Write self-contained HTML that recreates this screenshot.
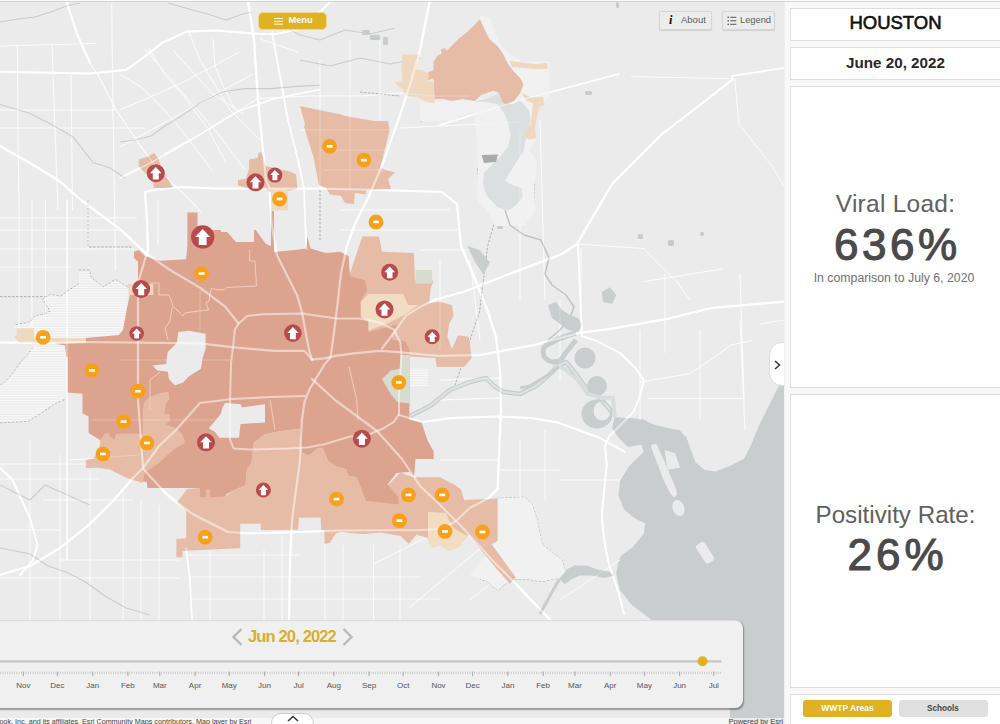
<!DOCTYPE html>
<html><head><meta charset="utf-8"><style>
*{box-sizing:border-box}
html,body{margin:0;padding:0}
body{width:1000px;height:724px;overflow:hidden;position:relative;background:#f8f8f6;font-family:"Liberation Sans",sans-serif}
#map{position:absolute;left:0;top:0;width:784px;height:724px;background:#ebebeb;overflow:hidden}
#topline{position:absolute;left:0;top:0;width:1000px;height:2px;background:#fafafa;border-bottom:1px solid #d5d5d5}
.btn{position:absolute;font-family:"Liberation Sans",sans-serif}
#menu{left:257.5px;top:11.5px;width:69px;height:18px;background:#e0b122;border-radius:5px;border:1px solid #f0d890;color:#fff;font-weight:bold;font-size:10px;line-height:16px}
.wb{top:11.2px;height:19px;background:#ececec;border:1px solid #d6d6d6;border-radius:2px;box-shadow:0 1px 1px rgba(0,0,0,0.12);color:#5c5c5c;font-size:9.5px;line-height:16px}
#tl{position:absolute;left:-20px;top:619.5px;width:763px;height:88.5px;background:#f0f0f0;border-radius:8px;box-shadow:1px 1.5px 1.5px rgba(0,0,0,0.35);border-top:1px solid #dcdcdc}
.ml{position:absolute;top:681px;width:40px;text-align:center;font-size:8px;color:#555;line-height:10px}
#attr{position:absolute;left:0;top:718px;width:784px;height:6px;background:rgba(255,255,255,0.6)}
#panel{position:absolute;left:784px;top:2px;width:216px;height:722px;background:#f8f8f6;border-left:1px solid #efefef}
.box{position:absolute;left:5px;width:211px;background:#fff;border:1px solid #dedede}
</style></head><body>
<div id="map">
<svg width="784" height="724" style="position:absolute;left:0;top:0">
<path d="M614.9,423.0 L629.2,417.7 L643.6,419.5 L654.3,424.9 L668.7,428.5 L679.5,430.3 L686.6,437.4 L690.2,448.2 L695.6,462.6 L704.6,469.7 L715.4,471.5 L729.7,466.0 L744.0,459.0 L751.3,444.6 L758.4,426.7 L765.6,412.3 L772.8,398.0 L780.0,383.6 L784.0,378.0 L784.0,724.0 L729.5,724.0 L730.0,709.0 L700.0,660.0 L648.0,617.0 L632.0,605.3 L619.6,589.5 L616.2,573.6 L618.5,560.0 L622.0,555.0 L632.8,546.9 L643.6,534.3 L645.4,523.6 L634.6,518.2 L623.8,509.2 L618.4,494.9 L620.2,480.5 L629.2,466.0 L643.6,451.8 L640.0,440.0 L625.0,432.0 Z" fill="#c9cdce" />
<path d="M17.4,46.0 L18.0,130.0 L19.0,210.0 L19.0,330.0" fill="none" stroke="#fff" stroke-width="0.9" opacity="0.85"/>
<path d="M52.0,43.0 L55.0,130.0 L58.0,210.0" fill="none" stroke="#fff" stroke-width="0.9" opacity="0.85"/>
<path d="M31.9,200.0 L31.9,330.0" fill="none" stroke="#fff" stroke-width="0.9" opacity="0.85"/>
<path d="M45.6,200.0 L45.6,320.0" fill="none" stroke="#fff" stroke-width="0.9" opacity="0.85"/>
<path d="M111.7,3.0 L113.0,110.0 L114.6,210.0 L115.4,270.0" fill="none" stroke="#fff" stroke-width="0.9" opacity="0.85"/>
<path d="M71.0,75.0 L72.5,210.0" fill="none" stroke="#fff" stroke-width="0.9" opacity="0.85"/>
<path d="M0.0,46.0 L96.0,43.5" fill="none" stroke="#fff" stroke-width="0.9" opacity="0.85"/>
<path d="M0.0,110.0 L116.0,110.0" fill="none" stroke="#fff" stroke-width="0.9" opacity="0.85"/>
<path d="M0.0,128.0 L145.0,128.0" fill="none" stroke="#fff" stroke-width="0.9" opacity="0.85"/>
<path d="M0.0,218.0 L137.0,218.0" fill="none" stroke="#fff" stroke-width="0.9" opacity="0.85"/>
<path d="M0.0,230.0 L121.0,230.0" fill="none" stroke="#fff" stroke-width="0.9" opacity="0.85"/>
<path d="M0.0,249.0 L134.0,249.0" fill="none" stroke="#fff" stroke-width="0.9" opacity="0.85"/>
<path d="M0.0,267.0 L70.0,267.0" fill="none" stroke="#fff" stroke-width="0.9" opacity="0.85"/>
<path d="M145.0,49.0 L180.0,90.0 L215.0,130.0 L245.0,170.0" fill="none" stroke="#fff" stroke-width="0.9" opacity="0.85"/>
<path d="M188.0,30.0 L200.0,60.0 L230.0,110.0 L260.0,140.0" fill="none" stroke="#fff" stroke-width="0.9" opacity="0.85"/>
<path d="M260.0,98.7 L312.0,95.8 L364.5,95.8 L399.0,93.0 L434.0,96.0 L470.0,96.0" fill="none" stroke="#fff" stroke-width="0.9" opacity="0.85"/>
<path d="M399.0,128.0 L460.0,125.0 L520.0,122.0" fill="none" stroke="#fff" stroke-width="0.9" opacity="0.85"/>
<path d="M260.0,39.0 L298.0,52.0" fill="none" stroke="#fff" stroke-width="0.9" opacity="0.85"/>
<path d="M88.0,200.0 L88.0,250.0" fill="none" stroke="#fff" stroke-width="0.9" opacity="0.85"/>
<path d="M158.0,200.0 L158.0,245.0" fill="none" stroke="#fff" stroke-width="0.9" opacity="0.85"/>
<path d="M200.0,290.0 L200.0,330.0" fill="none" stroke="#fff" stroke-width="0.9" opacity="0.85"/>
<path d="M120.0,360.0 L230.0,360.0" fill="none" stroke="#fff" stroke-width="0.9" opacity="0.85"/>
<path d="M90.0,420.0 L230.0,420.0" fill="none" stroke="#fff" stroke-width="0.9" opacity="0.85"/>
<path d="M70.0,460.0 L140.0,455.0" fill="none" stroke="#fff" stroke-width="0.9" opacity="0.85"/>
<path d="M300.0,130.0 L390.0,130.0" fill="none" stroke="#fff" stroke-width="0.9" opacity="0.85"/>
<path d="M320.0,150.0 L385.0,150.0" fill="none" stroke="#fff" stroke-width="0.9" opacity="0.85"/>
<path d="M325.0,170.0 L390.0,170.0" fill="none" stroke="#fff" stroke-width="0.9" opacity="0.85"/>
<path d="M340.0,210.0 L450.0,210.0" fill="none" stroke="#fff" stroke-width="0.9" opacity="0.85"/>
<path d="M340.0,230.0 L460.0,230.0" fill="none" stroke="#fff" stroke-width="0.9" opacity="0.85"/>
<path d="M420.0,250.0 L470.0,250.0" fill="none" stroke="#fff" stroke-width="0.9" opacity="0.85"/>
<path d="M320.0,60.0 L320.0,188.0" fill="none" stroke="#fff" stroke-width="0.9" opacity="0.85"/>
<path d="M350.0,40.0 L350.0,188.0" fill="none" stroke="#fff" stroke-width="0.9" opacity="0.85"/>
<path d="M380.0,40.0 L380.0,120.0" fill="none" stroke="#fff" stroke-width="0.9" opacity="0.85"/>
<path d="M440.0,260.0 L440.0,350.0" fill="none" stroke="#fff" stroke-width="0.9" opacity="0.85"/>
<path d="M470.0,260.0 L480.0,340.0" fill="none" stroke="#fff" stroke-width="0.9" opacity="0.85"/>
<path d="M520.0,130.0 L520.0,300.0" fill="none" stroke="#fff" stroke-width="0.9" opacity="0.85"/>
<path d="M540.0,120.0 L545.0,300.0" fill="none" stroke="#fff" stroke-width="0.9" opacity="0.85"/>
<path d="M560.0,300.0 L560.0,380.0" fill="none" stroke="#fff" stroke-width="0.9" opacity="0.85"/>
<path d="M0.0,464.0 L87.0,464.0" fill="none" stroke="#fff" stroke-width="0.9" opacity="0.85"/>
<path d="M0.0,479.0 L99.0,479.0" fill="none" stroke="#fff" stroke-width="0.9" opacity="0.85"/>
<path d="M43.0,500.0 L133.0,500.0" fill="none" stroke="#fff" stroke-width="0.9" opacity="0.85"/>
<path d="M0.0,530.0 L60.0,530.0" fill="none" stroke="#fff" stroke-width="0.9" opacity="0.85"/>
<path d="M60.0,560.0 L180.0,560.0" fill="none" stroke="#fff" stroke-width="0.9" opacity="0.85"/>
<path d="M0.0,578.0 L180.0,578.0" fill="none" stroke="#fff" stroke-width="0.9" opacity="0.85"/>
<path d="M30.0,440.0 L30.0,620.0" fill="none" stroke="#fff" stroke-width="0.9" opacity="0.85"/>
<path d="M60.0,455.0 L60.0,620.0" fill="none" stroke="#fff" stroke-width="0.9" opacity="0.85"/>
<path d="M90.0,470.0 L90.0,620.0" fill="none" stroke="#fff" stroke-width="0.9" opacity="0.85"/>
<path d="M123.0,490.0 L123.0,620.0" fill="none" stroke="#fff" stroke-width="0.9" opacity="0.85"/>
<path d="M141.0,500.0 L141.0,620.0" fill="none" stroke="#fff" stroke-width="0.9" opacity="0.85"/>
<path d="M159.0,505.0 L159.0,620.0" fill="none" stroke="#fff" stroke-width="0.9" opacity="0.85"/>
<path d="M210.0,550.0 L210.0,620.0" fill="none" stroke="#fff" stroke-width="0.9" opacity="0.85"/>
<path d="M264.0,550.0 L264.0,620.0" fill="none" stroke="#fff" stroke-width="0.9" opacity="0.85"/>
<path d="M282.0,535.0 L282.0,620.0" fill="none" stroke="#fff" stroke-width="0.9" opacity="0.85"/>
<path d="M325.0,545.0 L325.0,620.0" fill="none" stroke="#fff" stroke-width="0.9" opacity="0.85"/>
<path d="M343.0,545.0 L343.0,620.0" fill="none" stroke="#fff" stroke-width="0.9" opacity="0.85"/>
<path d="M373.6,545.0 L373.6,620.0" fill="none" stroke="#fff" stroke-width="0.9" opacity="0.85"/>
<path d="M400.0,545.0 L400.0,620.0" fill="none" stroke="#fff" stroke-width="0.9" opacity="0.85"/>
<path d="M186.0,555.0 L300.0,555.0" fill="none" stroke="#fff" stroke-width="0.9" opacity="0.85"/>
<path d="M190.0,577.0 L420.0,577.0" fill="none" stroke="#fff" stroke-width="0.9" opacity="0.85"/>
<path d="M190.0,599.0 L440.0,599.0" fill="none" stroke="#fff" stroke-width="0.9" opacity="0.85"/>
<path d="M373.6,564.0 L426.0,537.6" fill="none" stroke="#fff" stroke-width="0.9" opacity="0.85"/>
<path d="M408.8,608.0 L488.0,542.0" fill="none" stroke="#fff" stroke-width="0.9" opacity="0.85"/>
<path d="M470.0,600.0 L520.0,560.0" fill="none" stroke="#fff" stroke-width="0.9" opacity="0.85"/>
<path d="M120.0,74.2 L142.0,87.5 L164.2,109.6 L186.3,136.0 L212.8,171.4" fill="none" stroke="#fff" stroke-width="0.9" opacity="0.85"/>
<path d="M148.7,47.7 L164.2,74.2 L184.0,96.3 L208.4,129.4 L226.0,162.6" fill="none" stroke="#fff" stroke-width="0.9" opacity="0.85"/>
<path d="M173.0,50.0 L190.7,69.8 L212.8,94.0 L243.8,114.0" fill="none" stroke="#fff" stroke-width="0.9" opacity="0.85"/>
<path d="M212.8,38.8 L215.0,65.4 L221.7,83.0 L235.0,109.6" fill="none" stroke="#fff" stroke-width="0.9" opacity="0.85"/>
<path d="M239.3,52.0 L186.3,80.8 L142.0,100.7 L120.0,109.6" fill="none" stroke="#fff" stroke-width="0.9" opacity="0.85"/>
<path d="M252.6,74.2 L204.0,100.7 L164.2,122.8 L120.0,147.0" fill="none" stroke="#fff" stroke-width="0.9" opacity="0.85"/>
<path d="M261.4,96.3 L208.4,129.4 L164.2,153.8" fill="none" stroke="#fff" stroke-width="0.9" opacity="0.85"/>
<path d="M631.0,76.6 L734.7,78.7" fill="none" stroke="#fff" stroke-width="0.9" opacity="0.85"/>
<path d="M734.7,78.7 L739.0,124.0 L772.0,166.0 L784.0,186.0" fill="none" stroke="#fff" stroke-width="0.9" opacity="0.85"/>
<path d="M577.0,244.0 L643.6,248.5 L676.7,281.7 L690.0,300.0" fill="none" stroke="#fff" stroke-width="0.9" opacity="0.85"/>
<path d="M643.6,281.7 L722.0,269.0" fill="none" stroke="#fff" stroke-width="0.9" opacity="0.85"/>
<path d="M581.0,248.5 L581.0,300.0" fill="none" stroke="#fff" stroke-width="0.9" opacity="0.85"/>
<path d="M578.0,245.0 L582.0,336.0" fill="none" stroke="#fff" stroke-width="0.9" opacity="0.85"/>
<path d="M665.0,274.0 L665.0,353.0" fill="none" stroke="#fff" stroke-width="0.9" opacity="0.85"/>
<path d="M740.0,274.0 L744.0,398.5" fill="none" stroke="#fff" stroke-width="0.9" opacity="0.85"/>
<path d="M760.0,324.0 L784.0,320.0" fill="none" stroke="#fff" stroke-width="0.9" opacity="0.85"/>
<path d="M640.0,382.0 L690.0,373.7 L714.8,357.0 L731.0,345.0 L752.0,340.5" fill="none" stroke="#fff" stroke-width="0.9" opacity="0.85"/>
<path d="M648.5,398.5 L743.8,398.5" fill="none" stroke="#fff" stroke-width="0.9" opacity="0.85"/>
<path d="M640.0,330.0 L640.0,420.0" fill="none" stroke="#fff" stroke-width="0.9" opacity="0.85"/>
<path d="M700.0,330.0 L700.0,420.0" fill="none" stroke="#fff" stroke-width="0.9" opacity="0.85"/>
<path d="M740.0,320.0 L745.0,430.0" fill="none" stroke="#fff" stroke-width="0.9" opacity="0.85"/>
<path d="M440.0,380.0 L500.0,378.0" fill="none" stroke="#fff" stroke-width="0.9" opacity="0.85"/>
<path d="M440.0,400.0 L500.0,398.0" fill="none" stroke="#fff" stroke-width="0.9" opacity="0.85"/>
<path d="M440.0,460.0 L500.0,460.0" fill="none" stroke="#fff" stroke-width="0.9" opacity="0.85"/>
<path d="M500.0,470.0 L560.0,470.0" fill="none" stroke="#fff" stroke-width="0.9" opacity="0.85"/>
<path d="M520.0,440.0 L520.0,500.0" fill="none" stroke="#fff" stroke-width="0.9" opacity="0.85"/>
<path d="M545.0,430.0 L545.0,500.0" fill="none" stroke="#fff" stroke-width="0.9" opacity="0.85"/>
<path d="M560.0,480.0 L620.0,480.0" fill="none" stroke="#fff" stroke-width="0.9" opacity="0.85"/>
<path d="M560.0,600.0 L620.0,560.0" fill="none" stroke="#fff" stroke-width="0.9" opacity="0.85"/>
<path d="M0.0,146.0 L29.0,162.5 L58.0,180.0 L81.0,200.0 L97.0,212.0 L121.5,230.4 L145.8,253.2 L170.0,270.0 L200.5,288.0 L224.8,306.3 L238.6,323.5" fill="none" stroke="#fff" stroke-width="2.2" stroke-linejoin="round" stroke-linecap="round" opacity="1"/><path d="M66.0,0.0 L77.0,34.0 L90.0,63.0" fill="none" stroke="#fff" stroke-width="2.0" stroke-linejoin="round" stroke-linecap="round" opacity="1"/><path d="M90.0,63.0 L99.0,77.0 L115.0,108.0 L129.0,129.0 L144.0,151.0 L158.0,169.0 L172.0,183.0 L187.0,197.0 L201.0,212.0" fill="none" stroke="#fff" stroke-width="1.0" stroke-linejoin="round" stroke-linecap="round" opacity="1"/><path d="M319.0,89.7 L274.7,98.5 L237.0,111.8 L208.4,129.4 L175.0,149.3 L146.5,164.8 L120.0,178.0" fill="none" stroke="#fff" stroke-width="1.4" stroke-linejoin="round" stroke-linecap="round" opacity="1"/><path d="M0.0,71.8 L89.8,73.6 L125.7,70.0 L143.6,57.5 L161.6,43.1 L186.7,31.6 L215.4,30.5 L260.0,34.1 L276.0,34.0 L304.0,28.0 L316.0,16.0 L330.0,2.0" fill="none" stroke="#fff" stroke-width="2.0" stroke-linejoin="round" stroke-linecap="round" opacity="1"/><path d="M145.0,192.0 L154.0,190.0 L180.0,187.0 L215.0,188.5 L260.0,188.5 L320.0,188.6 L380.0,190.0 L442.0,192.0 L457.0,204.0 L459.0,225.0 L461.0,246.0 L475.0,279.0 L488.0,312.0 L496.0,337.0 L500.0,370.0 L501.0,410.0 L499.0,456.0 L497.6,489.0 L488.0,498.5 L470.0,507.7 L456.0,521.0 L442.0,529.0 L420.0,530.0 L340.0,530.5 L298.0,532.0 L253.0,533.5 L228.0,532.0 L192.0,513.7 L168.0,495.5 L145.0,471.0 L143.0,468.0 L138.0,400.0 L138.0,283.0 L148.0,249.0 L147.0,221.0 L145.0,192.0" fill="none" stroke="#fff" stroke-width="2.2" stroke-linejoin="round" stroke-linecap="round" opacity="1"/><path d="M0.0,342.5 L54.0,342.8 L86.0,342.0 L200.0,343.4 L232.3,347.2 L274.6,350.9 L304.5,350.9 L312.0,359.6" fill="none" stroke="#fff" stroke-width="2.2" stroke-linejoin="round" stroke-linecap="round" opacity="1"/><path d="M312.0,359.6 L324.4,358.4 L335.6,355.9 L354.2,353.4 L379.1,350.9 L399.0,352.1 L423.9,354.6 L440.0,355.9 L480.0,355.0 L534.0,345.0 L579.0,333.0 L612.0,328.6 L670.0,318.3 L711.5,308.0 L784.0,301.7" fill="none" stroke="#fff" stroke-width="2.2" stroke-linejoin="round" stroke-linecap="round" opacity="1"/><path d="M238.6,323.5 L247.3,316.1 L262.2,314.3 L302.0,313.6 L336.8,318.6 L359.2,318.6 L379.1,322.3 L394.0,329.7 L400.2,342.2 L401.5,354.6 L400.2,374.5 L399.0,396.9 L399.0,414.3 L394.0,421.8 L381.6,429.3 L369.2,434.2 L349.3,436.7 L324.4,444.2 L307.0,447.5 L287.0,448.5 L249.8,449.5 L233.6,448.5 L229.9,439.2 L229.9,404.4 L231.1,362.1 L233.6,342.2 L234.8,329.8 L238.6,323.5" fill="none" stroke="#fff" stroke-width="2.0" stroke-linejoin="round" stroke-linecap="round" opacity="1"/><path d="M248.0,0.0 L254.0,40.0 L258.0,100.0 L262.0,140.0 L266.0,180.0 L269.3,187.3 L271.7,224.6 L276.7,254.5 L289.1,279.4 L297.0,294.9 L302.0,312.3 L307.0,339.7 L309.5,352.1 L312.0,359.6" fill="none" stroke="#fff" stroke-width="2.2" stroke-linejoin="round" stroke-linecap="round" opacity="1"/><path d="M272.0,32.0 L288.0,120.0 L298.0,160.0 L304.0,188.0 L305.3,224.6 L306.6,249.5" fill="none" stroke="#fff" stroke-width="1.6" stroke-linejoin="round" stroke-linecap="round" opacity="1"/><path d="M430.0,0.0 L420.0,50.0 L410.0,85.0 L400.0,115.0 L383.0,163.0 L369.0,196.0 L355.0,224.0 L347.0,246.0 L341.0,273.0 L338.0,300.0 L335.6,320.0 L333.0,340.0 L330.6,357.0 L324.4,364.6 L316.9,377.0 L309.5,389.4 L304.5,401.9 L302.0,419.3 L300.7,441.7 L300.0,460.0 L296.0,490.0 L292.0,520.0 L290.0,560.0 L289.0,620.0" fill="none" stroke="#fff" stroke-width="2.2" stroke-linejoin="round" stroke-linecap="round" opacity="1"/><path d="M312.0,379.0 L335.0,400.0 L377.0,431.0 L402.0,459.0 L420.0,486.0 L437.0,502.0 L461.0,526.0 L494.0,562.0 L513.0,581.0 L531.0,600.0 L560.0,630.0" fill="none" stroke="#fff" stroke-width="2.2" stroke-linejoin="round" stroke-linecap="round" opacity="1"/><path d="M305.0,396.0 L270.0,397.0 L232.0,399.0 L200.0,403.0 L176.0,430.0 L159.0,446.0 L143.0,468.0 L132.0,479.0 L114.0,500.0 L90.0,524.0 L60.0,548.0 L30.0,566.0 L0.0,575.0" fill="none" stroke="#fff" stroke-width="2.2" stroke-linejoin="round" stroke-linecap="round" opacity="1"/><path d="M0.0,468.0 L12.0,479.0 L30.0,518.0 L37.5,545.0 L33.0,560.0 L20.0,575.0" fill="none" stroke="#fff" stroke-width="1.8" stroke-linejoin="round" stroke-linecap="round" opacity="1"/><path d="M186.0,548.0 L190.0,580.0 L192.0,620.0" fill="none" stroke="#fff" stroke-width="1.6" stroke-linejoin="round" stroke-linecap="round" opacity="1"/><path d="M399.0,415.0 L422.0,422.0 L452.0,418.0 L498.0,416.5 L531.0,418.0 L558.0,422.6 L600.0,438.0 L625.0,452.0" fill="none" stroke="#fff" stroke-width="2.0" stroke-linejoin="round" stroke-linecap="round" opacity="1"/><path d="M732.0,80.0 L700.0,105.0 L662.0,134.0 L612.0,184.0 L577.0,244.0 L562.0,254.0 L504.0,276.0 L463.0,292.0 L434.0,300.0 L420.0,307.0 L406.0,315.5 L394.0,333.0 L390.0,338.0 L382.0,348.5" fill="none" stroke="#fff" stroke-width="2.2" stroke-linejoin="round" stroke-linecap="round" opacity="1"/><path d="M784.0,68.0 L732.0,76.0 L732.0,80.0" fill="none" stroke="#fff" stroke-width="1.6" stroke-linejoin="round" stroke-linecap="round" opacity="1"/><path d="M578.0,245.0 L582.0,336.0 L597.0,341.0 L620.0,353.0 L636.0,368.7 L643.8,380.3 L640.0,395.8 L634.0,411.3 L624.5,421.0 L609.0,436.4 L605.0,446.0 L606.7,464.8 L603.0,502.0 L601.7,514.5 L604.0,539.4 L609.0,564.2 L614.0,579.0 L619.0,594.0 L624.0,614.0" fill="none" stroke="#fff" stroke-width="1.8" stroke-linejoin="round" stroke-linecap="round" opacity="1"/><path d="M440.0,125.0 L517.0,101.0 L596.0,80.0 L619.0,74.0" fill="none" stroke="#fff" stroke-width="1.4" stroke-linejoin="round" stroke-linecap="round" opacity="1"/><path d="M67.0,200.0 L67.0,400.0 L67.0,560.0" fill="none" stroke="#fff" stroke-width="1.2" stroke-linejoin="round" stroke-linecap="round" opacity="1"/>
<path d="M420.0,121.0 L455.0,116.5 L458.0,108.0 L474.0,106.5 L493.0,96.6" fill="none" stroke="#a9a9a9" stroke-width="0.9" stroke-dasharray="2.5,1.5"/>
<path d="M530.5,102.0 L535.0,81.0 L546.0,82.0" fill="none" stroke="#a9a9a9" stroke-width="0.9" stroke-dasharray="2.5,1.5"/>
<path d="M526.0,144.0 L519.4,153.0 L510.6,159.6 L512.8,164.0 L530.5,161.8 L530.5,170.6 L512.8,172.8 L510.6,181.7 L534.0,184.0 L534.0,203.8 L524.0,208.0 L524.0,221.4 L497.3,221.4 L497.3,212.6" fill="none" stroke="#a9a9a9" stroke-width="0.9" stroke-dasharray="2.5,1.5"/>
<path d="M477.5,168.4 L479.7,192.7 L495.0,206.0" fill="none" stroke="#a9a9a9" stroke-width="0.9" stroke-dasharray="2.5,1.5"/>
<path d="M496.0,216.8 L487.7,245.8 L483.6,279.0 L479.5,312.0 L471.0,337.0 L463.0,362.0 L455.0,385.0" fill="none" stroke="#a9a9a9" stroke-width="0.9" stroke-dasharray="2.5,1.5"/>
<path d="M88.0,200.0 L88.0,247.0 L133.0,247.0" fill="none" stroke="#a9a9a9" stroke-width="0.9" stroke-dasharray="2.5,1.5"/>
<path d="M0.0,296.6 L45.6,296.6" fill="none" stroke="#a9a9a9" stroke-width="0.9" stroke-dasharray="2.5,1.5"/>
<path d="M320.0,190.0 L320.0,240.0" fill="none" stroke="#a9a9a9" stroke-width="0.9" stroke-dasharray="2.5,1.5"/>
<path d="M360.0,92.0 L400.0,96.0" fill="none" stroke="#a9a9a9" stroke-width="0.9" stroke-dasharray="2.5,1.5"/>
<path d="M497.4,498.4 L524.7,497.1 L532.2,504.6 L537.1,519.5 L542.1,544.3 L554.5,554.3 L562.0,559.3 L565.7,571.7 L559.5,577.9 L542.1,581.6 L524.7,579.1 L514.8,579.1 L504.8,584.1 L498.6,590.3 L492.4,586.6 L487.5,581.6 L480.0,579.1" fill="none" stroke="#a9a9a9" stroke-width="0.9" stroke-dasharray="2.5,1.5"/>
<path d="M79.0,270.2 L89.7,270.2 L91.2,277.7 L103.3,286.9 L115.5,279.3 L127.7,286.9" fill="none" stroke="#a9a9a9" stroke-width="0.9" stroke-dasharray="2.5,1.5"/>
<path d="M79.0,283.8 L66.9,291.4 L60.8,296.0 L50.2,294.5 L42.6,299.0 L50.2,311.2 L44.0,314.2 L35.0,315.7 L30.4,321.8 L15.2,324.9" fill="none" stroke="#a9a9a9" stroke-width="0.9" stroke-dasharray="2.5,1.5"/>
<path d="M33.0,347.0 L27.6,355.0 L20.7,362.0 L13.8,372.0 L6.9,380.0 L0.0,385.6" fill="none" stroke="#a9a9a9" stroke-width="0.9" stroke-dasharray="2.5,1.5"/>
<path d="M0.0,422.8 L27.6,421.4 L41.4,413.0 L55.2,403.5 L65.0,399.3" fill="none" stroke="#a9a9a9" stroke-width="0.9" stroke-dasharray="2.5,1.5"/>
<defs><pattern id="hp" width="4" height="1.66" patternUnits="userSpaceOnUse"><rect x="0" y="0" width="4" height="0.75" fill="#fff" opacity="0.75"/></pattern></defs>
<path d="M420.0,102.0 L420.0,121.0 L455.0,121.0 L458.0,116.0 L474.0,112.0 L477.0,140.0 L478.0,168.0 L477.0,200.0 L488.0,212.0 L495.0,226.0 L524.0,226.0 L535.0,212.0 L534.0,185.0 L537.0,172.0 L536.0,160.0 L529.0,150.0 L536.0,140.0 L535.0,126.0 L536.0,107.0 L549.4,97.0 L549.4,61.8 L522.5,61.8 L506.0,51.4 L497.7,39.0 L490.0,18.0 L481.0,16.0 L478.0,22.0 L495.0,60.0 L510.0,80.0 L500.0,95.0 L474.0,100.0 Z" fill="#f1f1f1" />
<path d="M497.4,498.4 L524.7,497.1 L532.2,504.6 L537.1,519.5 L542.1,544.3 L554.5,554.3 L562.0,559.3 L565.7,571.7 L559.5,577.9 L542.1,581.6 L524.7,579.1 L514.8,579.1 L504.8,584.1 L498.6,590.3 L492.4,586.6 L487.5,581.6 L480.0,579.1 L470.0,575.0 L497.6,541.0 Z" fill="#f1f1f1" />
<path d="M79.0,270.2 L89.7,270.2 L91.2,277.7 L103.3,286.9 L115.5,279.3 L127.7,286.9 L127.7,335.0 L120.0,336.0 L85.6,338.0 L33.8,338.0 L33.8,328.3 L16.6,328.3 L13.7,330.0 L15.2,324.9 L30.4,321.8 L35.0,315.7 L44.0,314.2 L50.2,311.2 L42.6,299.0 L50.2,294.5 L60.8,296.0 L66.9,291.4 L79.0,283.8 Z" fill="url(#hp)" />
<path d="M33.0,345.0 L66.0,345.0 L66.3,380.0 L65.0,399.3 L55.2,403.5 L41.4,413.0 L27.6,421.4 L0.0,422.8 L0.0,385.6 L6.9,380.0 L13.8,372.0 L20.7,362.0 L27.6,355.0 Z" fill="url(#hp)" />
<path d="M409.0,368.0 L428.0,368.0 L428.0,386.0 L409.0,386.0 Z" fill="url(#hp)" />
<path d="M474.1,102.1 L492.9,96.6 L499.6,93.3 L506.2,104.3 L512.8,104.3 L519.4,99.9 L523.9,104.3 L529.4,111.0 L530.5,119.8 L528.3,133.0 L525.0,141.9 L523.9,150.7 L515.0,164.0 L508.4,175.0 L505.0,180.6 L512.8,185.0 L521.7,188.3 L522.8,197.1 L515.0,206.0 L508.4,210.4 L497.3,207.0 L486.3,195.0 L483.0,183.9 L484.1,172.8 L490.7,166.2 L499.6,157.3 L508.4,146.3 L510.6,135.2 L508.4,124.2 L504.0,113.1 L497.3,104.3 L486.3,102.1 Z" fill="#dcdfe0" />
<path d="M567.0,569.2 L574.4,565.5 L586.8,565.5 L596.8,569.2 L609.2,571.7 L614.2,575.4 L604.2,577.9 L591.8,575.4 L579.4,575.4 L572.0,579.1 L564.5,584.1 L559.5,579.1 Z" fill="#c9cdce" />
<path d="M651.0,444.9 L656.3,443.8 L664.6,461.5 L669.7,473.9 L676.0,488.4 L677.0,494.6 L673.9,497.7 L669.7,492.5 L663.5,480.1 L657.3,463.5 L652.1,450.0 Z" fill="#ebebeb" />
<path d="M664.6,450.0 L675.0,453.2 L680.1,467.7 L667.7,469.7 Z" fill="#ebebeb" />
<ellipse cx="678.5" cy="508" rx="5.7" ry="8.3" fill="#ebebeb" transform="rotate(-20 678.5 508)"/>
<rect x="-5" y="-11" width="10" height="22" rx="3" fill="#ebebeb" transform="translate(705,552.8) rotate(-33)"/>
<path d="M614.8,417.0 L625.0,418.0 L640.0,421.0 L655.0,425.0 L668.0,428.0 L680.0,431.0 L684.0,440.0 L672.0,446.0 L655.0,443.0 L640.0,445.0 L628.0,447.0 L618.0,437.0 L612.0,428.0 Z" fill="#c9cdce" />
<path d="M481.5,155.0 L498.0,154.6 L496.0,162.0 L484.0,163.0 Z" fill="#a9abab" />
<path d="M410.0,416.0 L430.0,406.0 L450.0,390.0 L470.0,382.0 L486.0,378.0 L494.0,386.0 L504.0,392.0 L520.0,394.0 L536.0,386.0 L548.0,376.0 L558.0,366.0 L566.0,362.0 L576.0,374.0 L586.0,388.0 L600.0,398.0 L612.0,412.0" fill="none" stroke="#c3c8ca" stroke-width="4.5" stroke-linejoin="round"/>
<path d="M410.0,416.0 L430.0,406.0 L450.0,390.0 L470.0,382.0 L486.0,378.0 L494.0,386.0 L504.0,392.0 L520.0,394.0 L536.0,386.0 L548.0,376.0 L558.0,366.0 L566.0,362.0 L576.0,374.0 L586.0,388.0 L600.0,398.0 L612.0,412.0" fill="none" stroke="#dde1e2" stroke-width="2.5" stroke-linejoin="round"/>
<path d="M505.0,210.0 L510.0,225.0 L524.0,235.0 L541.0,240.0 L549.0,258.0 L545.0,274.0 L552.0,285.0 L566.0,295.0 L574.0,307.0 L570.0,318.0 L560.0,330.0 L548.0,340.0" fill="none" stroke="#bfc4c6" stroke-width="1.5" stroke-linejoin="round"/>
<path d="M0.0,22.0 L18.0,19.0 L35.0,17.0 L52.0,11.6 L67.0,5.8 L80.0,3.0" fill="none" stroke="#c8cccd" stroke-width="1.1" stroke-linejoin="round"/>
<path d="M168.0,3.0 L189.0,9.0 L209.0,14.5 L226.0,20.0 L241.0,14.5 L252.0,12.0" fill="none" stroke="#c8cccd" stroke-width="1.1" stroke-linejoin="round"/>
<path d="M0.0,104.5 L29.0,113.0 L52.0,124.8 L72.5,136.4 L93.0,162.5 L110.0,168.0 L125.0,178.0" fill="none" stroke="#c8cccd" stroke-width="1.1" stroke-linejoin="round"/>
<path d="M0.0,485.0 L18.0,494.0 L30.0,500.0 L45.0,485.0 L72.0,497.0 L90.0,505.0" fill="none" stroke="#c8cccd" stroke-width="1.1" stroke-linejoin="round"/>
<path d="M0.0,548.0 L30.0,554.0 L48.0,566.0 L66.0,572.0 L84.0,581.0 L105.0,596.0 L126.0,608.0 L150.0,615.0" fill="none" stroke="#c8cccd" stroke-width="1.1" stroke-linejoin="round"/>
<path d="M260.0,30.0 L280.0,25.0 L300.0,35.0 L320.0,40.0 L345.0,30.0 L370.0,34.0 L395.0,28.0" fill="none" stroke="#c8cccd" stroke-width="1.1" stroke-linejoin="round"/>
<path d="M300.0,60.0 L330.0,66.0 L360.0,58.0 L390.0,64.0 L420.0,58.0" fill="none" stroke="#c8cccd" stroke-width="1.1" stroke-linejoin="round"/>
<path d="M120.0,142.0 L135.0,140.0 L151.0,136.0 L165.0,126.0 L177.5,118.4 L190.0,110.0 L199.6,103.0 L212.0,97.0 L221.7,92.0 L243.8,88.6 L270.3,88.6 L296.8,86.4 L320.0,85.2" fill="none" stroke="#c8cccd" stroke-width="1.1" stroke-linejoin="round"/>
<path d="M467.0,245.8 L479.5,250.0 L489.8,262.3 L483.6,274.8 L475.3,262.3 Z" fill="#c9cdce" />
<path d="M601.7,292.0 L610.0,287.2 L616.2,295.0 L612.0,303.8 L603.0,302.0 Z" fill="#c9cdce" />
<rect x="585" y="91" width="7" height="4" rx="1.5" fill="#c6cbcc"/>
<rect x="638" y="234" width="5" height="5" rx="1.5" fill="#c6cbcc"/>
<rect x="668" y="240" width="6" height="6" rx="1.5" fill="#c6cbcc"/>
<rect x="616" y="2" width="3" height="6" rx="1.5" fill="#c6cbcc"/>
<rect x="362" y="30" width="8" height="5" rx="1.5" fill="#c6cbcc"/>
<rect x="370" y="35" width="10" height="5" rx="1.5" fill="#c6cbcc"/>
<rect x="383" y="37" width="5" height="8" rx="1.5" fill="#c6cbcc"/>
<rect x="700" y="232" width="4" height="4" rx="1.5" fill="#c6cbcc"/>
<rect x="497" y="226" width="6" height="3" rx="1.5" fill="#c6cbcc"/>
<circle cx="585" cy="358" r="10.5" fill="#c9cdce"/>
<circle cx="597" cy="386" r="10" fill="#c9cdce"/>
<path fill-rule="evenodd" d="M581.5,414 A15.5,14.5 0 1 0 612.5,414 A15.5,14.5 0 1 0 581.5,414 Z M593.5,411 A8.5,9.5 0 1 0 610.5,411 A8.5,9.5 0 1 0 593.5,411 Z" fill="#c9cdce"/>
<path d="M548.0,305.0 L556.0,302.0 L562.0,310.0 L570.0,315.0 L578.0,318.0 L582.0,325.0 L578.0,332.0 L568.0,330.0 L560.0,324.0 L552.0,318.0 Z" fill="#c9cdce" />
<path d="M552.9,364.8 L564.5,368.7 L578,380.3 L587.7,393.8 L601.3,397.7 L612.9,397.7 L614.8,417" fill="none" stroke="#d9dcdd" stroke-width="4"/>
<path d="M520,388 L529.7,386 L539.3,380.3 L549,374.5 L558.7,366.8" fill="none" stroke="#c9cdce" stroke-width="3"/>
<path d="M545,346 Q558,338 576,333 M576,340 Q566,352 560,361 Q548,364 544,356 Q542,349 545,346" fill="none" stroke="#c9cdce" stroke-width="5"/>
<path d="M559.5,579 L552,592 L545,605 L540,614" fill="none" stroke="#c9cdce" stroke-width="3"/>
<path d="M177.0,502.6 L187.0,488.9 L200.0,488.1 L209.8,488.9 L225.0,496.5 L236.4,488.9 L245.5,485.1 L247.0,469.0 L251.6,463.0 L253.5,443.2 L263.4,435.1 L268.8,433.3 L285.0,430.6 L299.4,428.8 L302.0,452.2 L308.4,455.8 L317.4,448.6 L322.8,447.7 L324.6,452.2 L328.2,461.2 L337.2,466.6 L346.2,469.3 L348.0,475.6 L357.0,477.4 L366.0,490.0 L388.0,485.0 L400.3,472.7 L414.0,477.3 L439.8,477.3 L455.0,485.0 L461.0,489.4 L464.0,500.0 L497.6,498.5 L497.6,541.0 L491.5,544.0 L515.8,577.6 L509.7,583.6 L497.6,570.0 L468.7,535.0 L458.0,547.0 L449.0,550.0 L439.8,545.6 L430.7,547.0 L427.7,538.0 L416.6,534.6 L408.8,543.7 L400.4,536.0 L380.8,532.5 L364.0,533.9 L352.8,533.2 L341.6,531.8 L336.0,533.2 L329.7,543.0 L324.8,543.7 L324.1,530.4 L321.3,529.7 L320.6,517.5 L298.9,517.8 L298.2,529.7 L260.7,530.0 L260.7,523.8 L240.2,523.8 L240.2,548.2 L206.0,549.7 L188.5,550.4 L182.4,551.2 L182.4,557.3 L176.4,557.3 L176.4,539.0 L186.2,538.3 L186.2,510.2 Z" fill="#e6bca6" />
<path d="M348.6,277.5 L362.3,236.5 L379.0,236.5 L382.0,251.7 L414.0,253.0 L414.9,280.5 L433.7,280.5 L430.7,288.0 L429.2,303.3 L439.8,301.8 L452.0,305.0 L453.5,315.5 L449.0,324.6 L447.4,336.8 L452.0,349.0 L458.0,335.3 L468.7,336.8 L471.7,358.0 L464.0,367.0 L436.8,367.0 L435.3,358.0 L409.4,356.5 L390.0,345.0 L365.0,338.0 L350.0,300.0 Z" fill="#e6bca6" />
<path d="M54.0,343.5 L85.6,343.0 L85.6,338.0 L118.8,335.0 L123.0,330.0 L127.0,308.0 L129.8,295.0 L128.5,284.0 L133.0,284.0 L138.0,280.0 L138.0,262.0 L134.0,257.8 L134.0,251.7 L138.8,250.0 L145.0,256.0 L160.0,260.8 L186.0,259.3 L187.4,245.6 L187.4,212.5 L197.5,212.5 L197.5,228.0 L214.0,230.0 L221.0,230.0 L221.0,232.0 L227.0,232.0 L230.0,235.0 L234.0,240.0 L236.0,242.0 L254.0,242.0 L254.0,230.0 L256.0,230.0 L260.0,236.0 L266.0,244.0 L271.0,246.0 L271.0,211.0 L274.0,211.0 L274.0,252.0 L295.3,250.0 L306.0,248.6 L307.5,236.5 L310.5,248.6 L325.7,253.0 L340.0,251.7 L348.6,256.0 L350.0,276.0 L365.3,280.5 L367.0,291.0 L360.8,300.3 L360.8,315.5 L371.4,321.6 L368.4,332.2 L385.0,327.7 L397.3,324.6 L391.0,335.3 L392.7,339.8 L404.9,341.3 L409.4,349.0 L409.4,419.5 L421.6,422.6 L424.6,431.7 L427.7,440.8 L433.7,451.4 L433.7,459.0 L415.5,459.0 L414.0,477.3 L409.2,472.0 L396.6,472.9 L387.6,484.6 L398.4,497.2 L398.4,504.4 L366.0,500.8 L357.0,477.4 L348.0,475.6 L346.2,469.3 L337.2,466.6 L328.2,461.2 L324.6,452.2 L322.8,447.7 L317.4,448.6 L308.4,455.8 L302.0,452.2 L299.4,428.8 L285.0,430.6 L268.8,433.3 L263.4,435.1 L253.5,443.2 L251.6,463.0 L247.0,469.0 L245.5,485.1 L236.4,488.9 L226.5,494.2 L225.0,496.5 L209.8,497.2 L209.8,488.9 L206.0,489.6 L206.0,497.2 L200.0,497.2 L200.0,488.1 L187.0,488.1 L147.5,488.1 L146.7,482.0 L133.0,479.8 L100.0,440.0 L88.6,433.0 L88.6,416.5 L82.5,413.4 L82.5,393.7 L67.7,392.5 L67.7,357.3 L66.3,356.6 L65.0,345.6 Z" fill="#dca48f" />
<path d="M152.5,365.6 L166.0,364.0 L167.7,352.0 L176.8,343.0 L178.3,332.0 L189.0,330.7 L205.6,333.7 L205.6,349.0 L202.6,358.0 L201.0,368.7 L189.0,376.3 L182.9,382.4 L175.0,385.4 L169.0,379.3 L167.7,371.7 L157.0,370.2 Z" fill="#ebebeb" />
<path d="M222.4,407.4 L225.4,402.8 L240.6,404.3 L242.0,407.4 L265.0,404.3 L265.0,422.6 L240.6,424.0 L239.0,437.8 L219.3,437.8 L214.8,431.7 L208.7,428.6 L216.3,419.5 L220.9,413.4 Z" fill="#ebebeb" />
<path d="M86.0,468.0 L85.7,460.3 L93.1,458.6 L98.9,451.2 L100.6,439.6 L104.7,433.8 L108.9,433.0 L109.7,436.3 L114.7,439.6 L116.3,433.8 L136.2,433.8 L142.8,433.8 L142.8,409.8 L144.5,401.5 L149.5,397.3 L159.4,393.2 L168.5,391.5 L169.3,399.8 L166.0,403.1 L164.4,413.9 L169.3,413.9 L170.2,419.7 L166.0,424.7 L176.0,428.0 L182.6,434.6 L185.1,442.9 L176.0,447.9 L166.0,456.2 L159.4,462.8 L149.5,469.4 L144.5,472.7 L142.8,482.7 L136.2,481.0 L126.3,477.7 L116.3,472.7 L109.7,469.4 L98.1,467.7 Z" fill="#e6bca6" />
<path d="M428.0,512.0 L446.0,513.0 L452.0,526.0 L458.0,531.0 L468.0,536.0 L458.0,548.0 L449.0,551.0 L440.0,546.0 L431.0,548.0 L428.0,538.0 Z" fill="#f2dcc2" />
<path d="M360.8,301.8 L368.4,294.0 L403.3,294.0 L408.0,305.0 L418.5,305.0 L403.3,315.5 L388.0,323.0 L368.4,330.7 L368.4,321.6 L360.8,317.0 Z" fill="#f2dcc2" />
<path d="M415.5,270.0 L432.2,270.0 L432.2,283.6 L415.5,283.6 Z" fill="#d7dccf" />
<path d="M382.0,379.3 L391.0,370.2 L400.3,368.7 L400.3,355.0 L409.4,355.0 L409.4,403.6 L397.3,402.0 L391.0,394.5 Z" fill="#d7dccf" />
<path d="M300.0,106.0 L341.0,114.5 L345.0,116.0 L374.0,121.0 L388.0,121.0 L389.5,130.0 L385.0,149.0 L380.0,168.0 L395.0,172.5 L388.0,179.0 L391.0,189.0 L366.0,190.5 L366.0,194.6 L355.0,193.0 L354.0,204.0 L345.0,203.0 L341.0,196.0 L330.0,194.6 L326.0,188.0 L319.0,185.0 L313.5,157.0 L305.0,130.0 L304.0,127.0 L305.0,124.0 Z" fill="#e6bca6" />
<path d="M138.7,159.4 L148.3,156.6 L153.9,153.0 L158.0,158.0 L162.0,169.0 L173.0,188.0 L154.0,188.0 L152.5,180.0 L144.0,172.0 L138.7,166.0 Z" fill="#e6bca6" />
<path d="M249.0,159.4 L257.5,158.0 L258.8,152.5 L261.6,152.5 L265.7,166.0 L290.6,171.8 L296.0,174.6 L297.5,188.4 L287.8,191.0 L271.0,192.0 L270.0,192.5 L265.7,188.4 L253.0,189.8 L238.0,185.6 L238.0,180.0 L246.0,178.7 L249.0,169.0 Z" fill="#e6bca6" />
<path d="M271.0,188.5 L287.8,188.5 L287.8,210.5 L271.0,210.5 Z" fill="#efd8bf" />
<path d="M128.5,284.0 L153.3,284.0 L153.3,295.0 L128.5,295.0 Z" fill="#efd8bf" />
<path d="M16.6,328.3 L33.8,328.3 L33.8,338.0 L85.6,338.0 L85.6,342.8 L19.3,342.8 L14.5,336.6 L16.6,335.0 Z" fill="#efd8bf" />
<path d="M480.0,19.3 L485.2,30.7 L489.4,39.0 L497.7,46.2 L502.8,53.5 L508.0,63.8 L514.2,72.0 L520.4,78.3 L523.5,84.5 L520.4,92.8 L514.2,101.0 L506.0,105.2 L501.8,101.0 L498.7,92.8 L493.5,90.7 L487.3,92.8 L481.0,95.0 L474.9,101.0 L462.5,99.0 L452.0,101.0 L443.8,99.0 L434.5,99.0 L433.5,78.3 L427.3,80.4 L428.3,72.0 L433.5,70.0 L433.5,61.8 L437.6,55.5 L441.8,53.5 L440.7,49.3 L444.9,48.3 L447.0,50.4 L458.3,39.0 L468.7,30.7 L477.0,22.4 Z" fill="#e6bca6" />
<path d="M402.4,54.5 L419.0,54.5 L415.9,70.0 L422.0,70.0 L429.3,74.2 L427.3,81.4 L433.5,81.4 L434.5,99.0 L434.5,103.2 L426.2,102.1 L417.0,97.0 L406.6,96.0 L402.4,88.7 L397.2,85.6 L395.2,82.5 L402.4,80.4 L401.4,67.0 Z" fill="#efd8bf" />
<path d="M521.5,92.8 L526.6,95.0 L529.8,97.0 L543.2,97.0 L544.2,105.2 L539.0,107.3 L535.0,126.0 L536.0,138.4 L528.7,139.4 L523.5,134.2 L530.8,124.0 L532.9,103.2 L526.6,101.0 L522.5,95.0 Z" fill="#efd8bf" />
<path d="M510.0,61.0 L535.0,64.0 L547.0,63.0 L548.0,69.0 L535.0,69.0 L512.0,67.0 Z" fill="#efd8bf" />
<path d="M17.4,46.0 L18.0,130.0 L19.0,210.0 L19.0,330.0" fill="none" stroke="#fff" stroke-width="0.9" opacity="0.3"/>
<path d="M52.0,43.0 L55.0,130.0 L58.0,210.0" fill="none" stroke="#fff" stroke-width="0.9" opacity="0.3"/>
<path d="M31.9,200.0 L31.9,330.0" fill="none" stroke="#fff" stroke-width="0.9" opacity="0.3"/>
<path d="M45.6,200.0 L45.6,320.0" fill="none" stroke="#fff" stroke-width="0.9" opacity="0.3"/>
<path d="M111.7,3.0 L113.0,110.0 L114.6,210.0 L115.4,270.0" fill="none" stroke="#fff" stroke-width="0.9" opacity="0.3"/>
<path d="M71.0,75.0 L72.5,210.0" fill="none" stroke="#fff" stroke-width="0.9" opacity="0.3"/>
<path d="M0.0,46.0 L96.0,43.5" fill="none" stroke="#fff" stroke-width="0.9" opacity="0.3"/>
<path d="M0.0,110.0 L116.0,110.0" fill="none" stroke="#fff" stroke-width="0.9" opacity="0.3"/>
<path d="M0.0,128.0 L145.0,128.0" fill="none" stroke="#fff" stroke-width="0.9" opacity="0.3"/>
<path d="M0.0,218.0 L137.0,218.0" fill="none" stroke="#fff" stroke-width="0.9" opacity="0.3"/>
<path d="M0.0,230.0 L121.0,230.0" fill="none" stroke="#fff" stroke-width="0.9" opacity="0.3"/>
<path d="M0.0,249.0 L134.0,249.0" fill="none" stroke="#fff" stroke-width="0.9" opacity="0.3"/>
<path d="M0.0,267.0 L70.0,267.0" fill="none" stroke="#fff" stroke-width="0.9" opacity="0.3"/>
<path d="M145.0,49.0 L180.0,90.0 L215.0,130.0 L245.0,170.0" fill="none" stroke="#fff" stroke-width="0.9" opacity="0.3"/>
<path d="M188.0,30.0 L200.0,60.0 L230.0,110.0 L260.0,140.0" fill="none" stroke="#fff" stroke-width="0.9" opacity="0.3"/>
<path d="M260.0,98.7 L312.0,95.8 L364.5,95.8 L399.0,93.0 L434.0,96.0 L470.0,96.0" fill="none" stroke="#fff" stroke-width="0.9" opacity="0.3"/>
<path d="M399.0,128.0 L460.0,125.0 L520.0,122.0" fill="none" stroke="#fff" stroke-width="0.9" opacity="0.3"/>
<path d="M260.0,39.0 L298.0,52.0" fill="none" stroke="#fff" stroke-width="0.9" opacity="0.3"/>
<path d="M88.0,200.0 L88.0,250.0" fill="none" stroke="#fff" stroke-width="0.9" opacity="0.3"/>
<path d="M158.0,200.0 L158.0,245.0" fill="none" stroke="#fff" stroke-width="0.9" opacity="0.3"/>
<path d="M200.0,290.0 L200.0,330.0" fill="none" stroke="#fff" stroke-width="0.9" opacity="0.3"/>
<path d="M120.0,360.0 L230.0,360.0" fill="none" stroke="#fff" stroke-width="0.9" opacity="0.3"/>
<path d="M90.0,420.0 L230.0,420.0" fill="none" stroke="#fff" stroke-width="0.9" opacity="0.3"/>
<path d="M70.0,460.0 L140.0,455.0" fill="none" stroke="#fff" stroke-width="0.9" opacity="0.3"/>
<path d="M300.0,130.0 L390.0,130.0" fill="none" stroke="#fff" stroke-width="0.9" opacity="0.3"/>
<path d="M320.0,150.0 L385.0,150.0" fill="none" stroke="#fff" stroke-width="0.9" opacity="0.3"/>
<path d="M325.0,170.0 L390.0,170.0" fill="none" stroke="#fff" stroke-width="0.9" opacity="0.3"/>
<path d="M340.0,210.0 L450.0,210.0" fill="none" stroke="#fff" stroke-width="0.9" opacity="0.3"/>
<path d="M340.0,230.0 L460.0,230.0" fill="none" stroke="#fff" stroke-width="0.9" opacity="0.3"/>
<path d="M420.0,250.0 L470.0,250.0" fill="none" stroke="#fff" stroke-width="0.9" opacity="0.3"/>
<path d="M320.0,60.0 L320.0,188.0" fill="none" stroke="#fff" stroke-width="0.9" opacity="0.3"/>
<path d="M350.0,40.0 L350.0,188.0" fill="none" stroke="#fff" stroke-width="0.9" opacity="0.3"/>
<path d="M380.0,40.0 L380.0,120.0" fill="none" stroke="#fff" stroke-width="0.9" opacity="0.3"/>
<path d="M440.0,260.0 L440.0,350.0" fill="none" stroke="#fff" stroke-width="0.9" opacity="0.3"/>
<path d="M470.0,260.0 L480.0,340.0" fill="none" stroke="#fff" stroke-width="0.9" opacity="0.3"/>
<path d="M520.0,130.0 L520.0,300.0" fill="none" stroke="#fff" stroke-width="0.9" opacity="0.3"/>
<path d="M540.0,120.0 L545.0,300.0" fill="none" stroke="#fff" stroke-width="0.9" opacity="0.3"/>
<path d="M560.0,300.0 L560.0,380.0" fill="none" stroke="#fff" stroke-width="0.9" opacity="0.3"/>
<path d="M0.0,464.0 L87.0,464.0" fill="none" stroke="#fff" stroke-width="0.9" opacity="0.3"/>
<path d="M0.0,479.0 L99.0,479.0" fill="none" stroke="#fff" stroke-width="0.9" opacity="0.3"/>
<path d="M43.0,500.0 L133.0,500.0" fill="none" stroke="#fff" stroke-width="0.9" opacity="0.3"/>
<path d="M0.0,530.0 L60.0,530.0" fill="none" stroke="#fff" stroke-width="0.9" opacity="0.3"/>
<path d="M60.0,560.0 L180.0,560.0" fill="none" stroke="#fff" stroke-width="0.9" opacity="0.3"/>
<path d="M0.0,578.0 L180.0,578.0" fill="none" stroke="#fff" stroke-width="0.9" opacity="0.3"/>
<path d="M30.0,440.0 L30.0,620.0" fill="none" stroke="#fff" stroke-width="0.9" opacity="0.3"/>
<path d="M60.0,455.0 L60.0,620.0" fill="none" stroke="#fff" stroke-width="0.9" opacity="0.3"/>
<path d="M90.0,470.0 L90.0,620.0" fill="none" stroke="#fff" stroke-width="0.9" opacity="0.3"/>
<path d="M123.0,490.0 L123.0,620.0" fill="none" stroke="#fff" stroke-width="0.9" opacity="0.3"/>
<path d="M141.0,500.0 L141.0,620.0" fill="none" stroke="#fff" stroke-width="0.9" opacity="0.3"/>
<path d="M159.0,505.0 L159.0,620.0" fill="none" stroke="#fff" stroke-width="0.9" opacity="0.3"/>
<path d="M210.0,550.0 L210.0,620.0" fill="none" stroke="#fff" stroke-width="0.9" opacity="0.3"/>
<path d="M264.0,550.0 L264.0,620.0" fill="none" stroke="#fff" stroke-width="0.9" opacity="0.3"/>
<path d="M282.0,535.0 L282.0,620.0" fill="none" stroke="#fff" stroke-width="0.9" opacity="0.3"/>
<path d="M325.0,545.0 L325.0,620.0" fill="none" stroke="#fff" stroke-width="0.9" opacity="0.3"/>
<path d="M343.0,545.0 L343.0,620.0" fill="none" stroke="#fff" stroke-width="0.9" opacity="0.3"/>
<path d="M373.6,545.0 L373.6,620.0" fill="none" stroke="#fff" stroke-width="0.9" opacity="0.3"/>
<path d="M400.0,545.0 L400.0,620.0" fill="none" stroke="#fff" stroke-width="0.9" opacity="0.3"/>
<path d="M186.0,555.0 L300.0,555.0" fill="none" stroke="#fff" stroke-width="0.9" opacity="0.3"/>
<path d="M190.0,577.0 L420.0,577.0" fill="none" stroke="#fff" stroke-width="0.9" opacity="0.3"/>
<path d="M190.0,599.0 L440.0,599.0" fill="none" stroke="#fff" stroke-width="0.9" opacity="0.3"/>
<path d="M373.6,564.0 L426.0,537.6" fill="none" stroke="#fff" stroke-width="0.9" opacity="0.3"/>
<path d="M408.8,608.0 L488.0,542.0" fill="none" stroke="#fff" stroke-width="0.9" opacity="0.3"/>
<path d="M470.0,600.0 L520.0,560.0" fill="none" stroke="#fff" stroke-width="0.9" opacity="0.3"/>
<path d="M120.0,74.2 L142.0,87.5 L164.2,109.6 L186.3,136.0 L212.8,171.4" fill="none" stroke="#fff" stroke-width="0.9" opacity="0.3"/>
<path d="M148.7,47.7 L164.2,74.2 L184.0,96.3 L208.4,129.4 L226.0,162.6" fill="none" stroke="#fff" stroke-width="0.9" opacity="0.3"/>
<path d="M173.0,50.0 L190.7,69.8 L212.8,94.0 L243.8,114.0" fill="none" stroke="#fff" stroke-width="0.9" opacity="0.3"/>
<path d="M212.8,38.8 L215.0,65.4 L221.7,83.0 L235.0,109.6" fill="none" stroke="#fff" stroke-width="0.9" opacity="0.3"/>
<path d="M239.3,52.0 L186.3,80.8 L142.0,100.7 L120.0,109.6" fill="none" stroke="#fff" stroke-width="0.9" opacity="0.3"/>
<path d="M252.6,74.2 L204.0,100.7 L164.2,122.8 L120.0,147.0" fill="none" stroke="#fff" stroke-width="0.9" opacity="0.3"/>
<path d="M261.4,96.3 L208.4,129.4 L164.2,153.8" fill="none" stroke="#fff" stroke-width="0.9" opacity="0.3"/>
<path d="M631.0,76.6 L734.7,78.7" fill="none" stroke="#fff" stroke-width="0.9" opacity="0.3"/>
<path d="M734.7,78.7 L739.0,124.0 L772.0,166.0 L784.0,186.0" fill="none" stroke="#fff" stroke-width="0.9" opacity="0.3"/>
<path d="M577.0,244.0 L643.6,248.5 L676.7,281.7 L690.0,300.0" fill="none" stroke="#fff" stroke-width="0.9" opacity="0.3"/>
<path d="M643.6,281.7 L722.0,269.0" fill="none" stroke="#fff" stroke-width="0.9" opacity="0.3"/>
<path d="M581.0,248.5 L581.0,300.0" fill="none" stroke="#fff" stroke-width="0.9" opacity="0.3"/>
<path d="M578.0,245.0 L582.0,336.0" fill="none" stroke="#fff" stroke-width="0.9" opacity="0.3"/>
<path d="M665.0,274.0 L665.0,353.0" fill="none" stroke="#fff" stroke-width="0.9" opacity="0.3"/>
<path d="M740.0,274.0 L744.0,398.5" fill="none" stroke="#fff" stroke-width="0.9" opacity="0.3"/>
<path d="M760.0,324.0 L784.0,320.0" fill="none" stroke="#fff" stroke-width="0.9" opacity="0.3"/>
<path d="M640.0,382.0 L690.0,373.7 L714.8,357.0 L731.0,345.0 L752.0,340.5" fill="none" stroke="#fff" stroke-width="0.9" opacity="0.3"/>
<path d="M648.5,398.5 L743.8,398.5" fill="none" stroke="#fff" stroke-width="0.9" opacity="0.3"/>
<path d="M640.0,330.0 L640.0,420.0" fill="none" stroke="#fff" stroke-width="0.9" opacity="0.3"/>
<path d="M700.0,330.0 L700.0,420.0" fill="none" stroke="#fff" stroke-width="0.9" opacity="0.3"/>
<path d="M740.0,320.0 L745.0,430.0" fill="none" stroke="#fff" stroke-width="0.9" opacity="0.3"/>
<path d="M440.0,380.0 L500.0,378.0" fill="none" stroke="#fff" stroke-width="0.9" opacity="0.3"/>
<path d="M440.0,400.0 L500.0,398.0" fill="none" stroke="#fff" stroke-width="0.9" opacity="0.3"/>
<path d="M440.0,460.0 L500.0,460.0" fill="none" stroke="#fff" stroke-width="0.9" opacity="0.3"/>
<path d="M500.0,470.0 L560.0,470.0" fill="none" stroke="#fff" stroke-width="0.9" opacity="0.3"/>
<path d="M520.0,440.0 L520.0,500.0" fill="none" stroke="#fff" stroke-width="0.9" opacity="0.3"/>
<path d="M545.0,430.0 L545.0,500.0" fill="none" stroke="#fff" stroke-width="0.9" opacity="0.3"/>
<path d="M560.0,480.0 L620.0,480.0" fill="none" stroke="#fff" stroke-width="0.9" opacity="0.3"/>
<path d="M560.0,600.0 L620.0,560.0" fill="none" stroke="#fff" stroke-width="0.9" opacity="0.3"/>
<path d="M249.7,250.0 L249.7,261.0 L255.0,261.0 L256.5,286.0 L226.5,287.5 L225.0,289.7 L216.0,289.7 L211.5,288.0 L210.0,293.5 L209.0,301.0 L206.0,302.5 L208.5,310.0 L195.0,311.5 L184.5,313.0 L183.0,316.0 L172.5,305.5 L171.0,299.5 L168.7,295.0 L159.0,295.0 L159.0,283.0 L150.0,283.0" fill="none" stroke="#f2d2c4" stroke-width="0.9"/>
<path d="M172.5,307.0 L169.5,322.0 L165.0,328.0 L168.0,340.0" fill="none" stroke="#f2d2c4" stroke-width="0.9"/>
<path d="M349.0,367.0 L356.7,399.4 L358.0,420.0" fill="none" stroke="#f2d2c4" stroke-width="0.9"/>
<path d="M160.0,372.0 L150.0,380.0 L150.0,410.0" fill="none" stroke="#f2d2c4" stroke-width="0.9"/>
<path d="M270.0,400.0 L275.0,430.0" fill="none" stroke="#f2d2c4" stroke-width="0.9"/>
<path d="M0.0,146.0 L29.0,162.5 L58.0,180.0 L81.0,200.0 L97.0,212.0 L121.5,230.4 L145.8,253.2 L170.0,270.0 L200.5,288.0 L224.8,306.3 L238.6,323.5" fill="none" stroke="#fff" stroke-width="2.2" stroke-linejoin="round" stroke-linecap="round" opacity="0.5"/><path d="M66.0,0.0 L77.0,34.0 L90.0,63.0" fill="none" stroke="#fff" stroke-width="2.0" stroke-linejoin="round" stroke-linecap="round" opacity="0.5"/><path d="M90.0,63.0 L99.0,77.0 L115.0,108.0 L129.0,129.0 L144.0,151.0 L158.0,169.0 L172.0,183.0 L187.0,197.0 L201.0,212.0" fill="none" stroke="#fff" stroke-width="1.0" stroke-linejoin="round" stroke-linecap="round" opacity="0.5"/><path d="M319.0,89.7 L274.7,98.5 L237.0,111.8 L208.4,129.4 L175.0,149.3 L146.5,164.8 L120.0,178.0" fill="none" stroke="#fff" stroke-width="1.4" stroke-linejoin="round" stroke-linecap="round" opacity="0.5"/><path d="M0.0,71.8 L89.8,73.6 L125.7,70.0 L143.6,57.5 L161.6,43.1 L186.7,31.6 L215.4,30.5 L260.0,34.1 L276.0,34.0 L304.0,28.0 L316.0,16.0 L330.0,2.0" fill="none" stroke="#fff" stroke-width="2.0" stroke-linejoin="round" stroke-linecap="round" opacity="0.5"/><path d="M145.0,192.0 L154.0,190.0 L180.0,187.0 L215.0,188.5 L260.0,188.5 L320.0,188.6 L380.0,190.0 L442.0,192.0 L457.0,204.0 L459.0,225.0 L461.0,246.0 L475.0,279.0 L488.0,312.0 L496.0,337.0 L500.0,370.0 L501.0,410.0 L499.0,456.0 L497.6,489.0 L488.0,498.5 L470.0,507.7 L456.0,521.0 L442.0,529.0 L420.0,530.0 L340.0,530.5 L298.0,532.0 L253.0,533.5 L228.0,532.0 L192.0,513.7 L168.0,495.5 L145.0,471.0 L143.0,468.0 L138.0,400.0 L138.0,283.0 L148.0,249.0 L147.0,221.0 L145.0,192.0" fill="none" stroke="#fff" stroke-width="2.2" stroke-linejoin="round" stroke-linecap="round" opacity="0.5"/><path d="M0.0,342.5 L54.0,342.8 L86.0,342.0 L200.0,343.4 L232.3,347.2 L274.6,350.9 L304.5,350.9 L312.0,359.6" fill="none" stroke="#fff" stroke-width="2.2" stroke-linejoin="round" stroke-linecap="round" opacity="0.5"/><path d="M312.0,359.6 L324.4,358.4 L335.6,355.9 L354.2,353.4 L379.1,350.9 L399.0,352.1 L423.9,354.6 L440.0,355.9 L480.0,355.0 L534.0,345.0 L579.0,333.0 L612.0,328.6 L670.0,318.3 L711.5,308.0 L784.0,301.7" fill="none" stroke="#fff" stroke-width="2.2" stroke-linejoin="round" stroke-linecap="round" opacity="0.5"/><path d="M238.6,323.5 L247.3,316.1 L262.2,314.3 L302.0,313.6 L336.8,318.6 L359.2,318.6 L379.1,322.3 L394.0,329.7 L400.2,342.2 L401.5,354.6 L400.2,374.5 L399.0,396.9 L399.0,414.3 L394.0,421.8 L381.6,429.3 L369.2,434.2 L349.3,436.7 L324.4,444.2 L307.0,447.5 L287.0,448.5 L249.8,449.5 L233.6,448.5 L229.9,439.2 L229.9,404.4 L231.1,362.1 L233.6,342.2 L234.8,329.8 L238.6,323.5" fill="none" stroke="#fff" stroke-width="2.0" stroke-linejoin="round" stroke-linecap="round" opacity="0.5"/><path d="M248.0,0.0 L254.0,40.0 L258.0,100.0 L262.0,140.0 L266.0,180.0 L269.3,187.3 L271.7,224.6 L276.7,254.5 L289.1,279.4 L297.0,294.9 L302.0,312.3 L307.0,339.7 L309.5,352.1 L312.0,359.6" fill="none" stroke="#fff" stroke-width="2.2" stroke-linejoin="round" stroke-linecap="round" opacity="0.5"/><path d="M272.0,32.0 L288.0,120.0 L298.0,160.0 L304.0,188.0 L305.3,224.6 L306.6,249.5" fill="none" stroke="#fff" stroke-width="1.6" stroke-linejoin="round" stroke-linecap="round" opacity="0.5"/><path d="M430.0,0.0 L420.0,50.0 L410.0,85.0 L400.0,115.0 L383.0,163.0 L369.0,196.0 L355.0,224.0 L347.0,246.0 L341.0,273.0 L338.0,300.0 L335.6,320.0 L333.0,340.0 L330.6,357.0 L324.4,364.6 L316.9,377.0 L309.5,389.4 L304.5,401.9 L302.0,419.3 L300.7,441.7 L300.0,460.0 L296.0,490.0 L292.0,520.0 L290.0,560.0 L289.0,620.0" fill="none" stroke="#fff" stroke-width="2.2" stroke-linejoin="round" stroke-linecap="round" opacity="0.5"/><path d="M312.0,379.0 L335.0,400.0 L377.0,431.0 L402.0,459.0 L420.0,486.0 L437.0,502.0 L461.0,526.0 L494.0,562.0 L513.0,581.0 L531.0,600.0 L560.0,630.0" fill="none" stroke="#fff" stroke-width="2.2" stroke-linejoin="round" stroke-linecap="round" opacity="0.5"/><path d="M305.0,396.0 L270.0,397.0 L232.0,399.0 L200.0,403.0 L176.0,430.0 L159.0,446.0 L143.0,468.0 L132.0,479.0 L114.0,500.0 L90.0,524.0 L60.0,548.0 L30.0,566.0 L0.0,575.0" fill="none" stroke="#fff" stroke-width="2.2" stroke-linejoin="round" stroke-linecap="round" opacity="0.5"/><path d="M0.0,468.0 L12.0,479.0 L30.0,518.0 L37.5,545.0 L33.0,560.0 L20.0,575.0" fill="none" stroke="#fff" stroke-width="1.8" stroke-linejoin="round" stroke-linecap="round" opacity="0.5"/><path d="M186.0,548.0 L190.0,580.0 L192.0,620.0" fill="none" stroke="#fff" stroke-width="1.6" stroke-linejoin="round" stroke-linecap="round" opacity="0.5"/><path d="M399.0,415.0 L422.0,422.0 L452.0,418.0 L498.0,416.5 L531.0,418.0 L558.0,422.6 L600.0,438.0 L625.0,452.0" fill="none" stroke="#fff" stroke-width="2.0" stroke-linejoin="round" stroke-linecap="round" opacity="0.5"/><path d="M732.0,80.0 L700.0,105.0 L662.0,134.0 L612.0,184.0 L577.0,244.0 L562.0,254.0 L504.0,276.0 L463.0,292.0 L434.0,300.0 L420.0,307.0 L406.0,315.5 L394.0,333.0 L390.0,338.0 L382.0,348.5" fill="none" stroke="#fff" stroke-width="2.2" stroke-linejoin="round" stroke-linecap="round" opacity="0.5"/><path d="M784.0,68.0 L732.0,76.0 L732.0,80.0" fill="none" stroke="#fff" stroke-width="1.6" stroke-linejoin="round" stroke-linecap="round" opacity="0.5"/><path d="M578.0,245.0 L582.0,336.0 L597.0,341.0 L620.0,353.0 L636.0,368.7 L643.8,380.3 L640.0,395.8 L634.0,411.3 L624.5,421.0 L609.0,436.4 L605.0,446.0 L606.7,464.8 L603.0,502.0 L601.7,514.5 L604.0,539.4 L609.0,564.2 L614.0,579.0 L619.0,594.0 L624.0,614.0" fill="none" stroke="#fff" stroke-width="1.8" stroke-linejoin="round" stroke-linecap="round" opacity="0.5"/><path d="M440.0,125.0 L517.0,101.0 L596.0,80.0 L619.0,74.0" fill="none" stroke="#fff" stroke-width="1.4" stroke-linejoin="round" stroke-linecap="round" opacity="0.5"/><path d="M67.0,200.0 L67.0,400.0 L67.0,560.0" fill="none" stroke="#fff" stroke-width="1.2" stroke-linejoin="round" stroke-linecap="round" opacity="0.5"/>
<circle cx="155.8" cy="173.2" r="9" fill="#b94a4b"/><path d="M155.8,167.1 L161.6,173.2 L158.8,173.2 L158.8,179.5 L152.8,179.5 L152.8,173.2 L150.0,173.2 Z" fill="#fff"/>
<circle cx="255.5" cy="182.3" r="9" fill="#b94a4b"/><path d="M255.5,176.2 L261.3,182.3 L258.5,182.3 L258.5,188.6 L252.5,188.6 L252.5,182.3 L249.7,182.3 Z" fill="#fff"/>
<circle cx="274.9" cy="175.1" r="7.5" fill="#b94a4b"/><path d="M274.9,170.0 L279.7,175.1 L277.4,175.1 L277.4,180.3 L272.4,180.3 L272.4,175.1 L270.1,175.1 Z" fill="#fff"/>
<circle cx="202.7" cy="236.9" r="11.7" fill="#b94a4b"/><path d="M202.7,228.9 L210.2,236.9 L206.6,236.9 L206.6,245.1 L198.8,245.1 L198.8,236.9 L195.2,236.9 Z" fill="#fff"/>
<circle cx="141.2" cy="289" r="9" fill="#b94a4b"/><path d="M141.2,282.9 L147.0,289.0 L144.2,289.0 L144.2,295.3 L138.2,295.3 L138.2,289.0 L135.4,289.0 Z" fill="#fff"/>
<circle cx="136.7" cy="333.5" r="7.3" fill="#b94a4b"/><path d="M136.7,328.5 L141.4,333.5 L139.1,333.5 L139.1,338.6 L134.3,338.6 L134.3,333.5 L132.0,333.5 Z" fill="#fff"/>
<circle cx="292.9" cy="333.1" r="8.8" fill="#b94a4b"/><path d="M292.9,327.1 L298.5,333.1 L295.8,333.1 L295.8,339.3 L290.0,339.3 L290.0,333.1 L287.3,333.1 Z" fill="#fff"/>
<circle cx="389.7" cy="272.3" r="8.5" fill="#b94a4b"/><path d="M389.7,266.5 L395.1,272.3 L392.5,272.3 L392.5,278.2 L386.9,278.2 L386.9,272.3 L384.3,272.3 Z" fill="#fff"/>
<circle cx="384.5" cy="309.4" r="9" fill="#b94a4b"/><path d="M384.5,303.3 L390.3,309.4 L387.5,309.4 L387.5,315.7 L381.5,315.7 L381.5,309.4 L378.7,309.4 Z" fill="#fff"/>
<circle cx="432.2" cy="336.8" r="7.5" fill="#b94a4b"/><path d="M432.2,331.7 L437.0,336.8 L434.7,336.8 L434.7,342.1 L429.7,342.1 L429.7,336.8 L427.4,336.8 Z" fill="#fff"/>
<circle cx="206" cy="442.3" r="9" fill="#b94a4b"/><path d="M206.0,436.2 L211.8,442.3 L209.0,442.3 L209.0,448.6 L203.0,448.6 L203.0,442.3 L200.2,442.3 Z" fill="#fff"/>
<circle cx="361.9" cy="438.7" r="9" fill="#b94a4b"/><path d="M361.9,432.6 L367.7,438.7 L364.9,438.7 L364.9,445.0 L358.9,445.0 L358.9,438.7 L356.1,438.7 Z" fill="#fff"/>
<circle cx="263.4" cy="490" r="7.5" fill="#b94a4b"/><path d="M263.4,484.9 L268.2,490.0 L265.9,490.0 L265.9,495.2 L260.9,495.2 L260.9,490.0 L258.6,490.0 Z" fill="#fff"/>
<circle cx="329.6" cy="146.3" r="7.4" fill="#f7a11b"/><rect x="326.65" y="145.00" width="5.9" height="2.6" fill="#fff"/>
<circle cx="363.8" cy="160.1" r="7.4" fill="#f7a11b"/><rect x="360.85" y="158.80" width="5.9" height="2.6" fill="#fff"/>
<circle cx="279.6" cy="199" r="7.4" fill="#f7a11b"/><rect x="276.65" y="197.70" width="5.9" height="2.6" fill="#fff"/>
<circle cx="376" cy="221.9" r="7.4" fill="#f7a11b"/><rect x="373.05" y="220.60" width="5.9" height="2.6" fill="#fff"/>
<circle cx="201.6" cy="273.6" r="7.4" fill="#f7a11b"/><rect x="198.65" y="272.30" width="5.9" height="2.6" fill="#fff"/>
<circle cx="43.1" cy="337.3" r="7.4" fill="#f7a11b"/><rect x="40.15" y="336.00" width="5.9" height="2.6" fill="#fff"/>
<circle cx="91.9" cy="370.4" r="7.4" fill="#f7a11b"/><rect x="88.95" y="369.10" width="5.9" height="2.6" fill="#fff"/>
<circle cx="137.9" cy="391.2" r="7.4" fill="#f7a11b"/><rect x="134.95" y="389.90" width="5.9" height="2.6" fill="#fff"/>
<circle cx="123.6" cy="421.6" r="7.4" fill="#f7a11b"/><rect x="120.65" y="420.30" width="5.9" height="2.6" fill="#fff"/>
<circle cx="147" cy="442.9" r="7.4" fill="#f7a11b"/><rect x="144.05" y="441.60" width="5.9" height="2.6" fill="#fff"/>
<circle cx="102.9" cy="453.9" r="7.4" fill="#f7a11b"/><rect x="99.95" y="452.60" width="5.9" height="2.6" fill="#fff"/>
<circle cx="398.8" cy="382.4" r="7.4" fill="#f7a11b"/><rect x="395.85" y="381.10" width="5.9" height="2.6" fill="#fff"/>
<circle cx="336.5" cy="499.1" r="7.4" fill="#f7a11b"/><rect x="333.55" y="497.80" width="5.9" height="2.6" fill="#fff"/>
<circle cx="408.5" cy="494.9" r="7.4" fill="#f7a11b"/><rect x="405.55" y="493.60" width="5.9" height="2.6" fill="#fff"/>
<circle cx="442.2" cy="494.9" r="7.4" fill="#f7a11b"/><rect x="439.25" y="493.60" width="5.9" height="2.6" fill="#fff"/>
<circle cx="399.4" cy="520.7" r="7.4" fill="#f7a11b"/><rect x="396.45" y="519.40" width="5.9" height="2.6" fill="#fff"/>
<circle cx="445" cy="531.4" r="7.4" fill="#f7a11b"/><rect x="442.05" y="530.10" width="5.9" height="2.6" fill="#fff"/>
<circle cx="482.4" cy="532" r="7.4" fill="#f7a11b"/><rect x="479.45" y="530.70" width="5.9" height="2.6" fill="#fff"/>
<circle cx="205.2" cy="537.2" r="7.4" fill="#f7a11b"/><rect x="202.25" y="535.90" width="5.9" height="2.6" fill="#fff"/>
</svg>
<div class="btn" id="menu"><span style="position:absolute;left:15px;top:5.2px;width:9.5px;height:1.7px;background:#fff;box-shadow:0 2.8px 0 #fff,0 5.6px 0 #fff"></span><span style="position:absolute;left:30px;top:-0.8px;font-size:9.2px">Menu</span></div>
<div class="btn wb" style="left:658.5px;width:53px"><span style="position:absolute;left:9.5px;top:-0.5px;font-family:'Liberation Serif',serif;font-weight:bold;font-style:italic;font-size:12.5px;color:#111">i</span><span style="position:absolute;left:21.5px;top:-0.3px">About</span></div>
<div class="btn wb" style="left:721.5px;width:53px"><svg style="position:absolute;left:4px;top:3.5px" width="10" height="10"><g fill="#555"><rect x="0.5" y="0.6" width="1.4" height="1.4"/><rect x="0.5" y="4.1" width="1.4" height="1.4"/><rect x="0.5" y="7.6" width="1.4" height="1.4"/><rect x="3.3" y="0.8" width="6" height="1"/><rect x="3.3" y="4.3" width="6" height="1"/><rect x="3.3" y="7.8" width="6" height="1"/></g></svg><span style="position:absolute;left:17.5px;top:-0.3px;font-size:9.3px">Legend</span></div>
<div id="tl"></div>
<svg width="784" height="724" style="position:absolute;left:0;top:0">
<rect x="-5" y="660.3" width="726.5" height="2.2" fill="#c4c4c4"/>
<rect x="-2.00" y="671.6" width="0.9" height="2.5" fill="#c9c9c9"/><rect x="0.30" y="671.6" width="0.9" height="2.5" fill="#c9c9c9"/><rect x="2.60" y="671.6" width="0.9" height="2.5" fill="#c9c9c9"/><rect x="4.90" y="671.6" width="0.9" height="2.5" fill="#c9c9c9"/><rect x="7.20" y="671.6" width="0.9" height="2.5" fill="#c9c9c9"/><rect x="9.50" y="671.6" width="0.9" height="2.5" fill="#c9c9c9"/><rect x="11.80" y="671.6" width="0.9" height="2.5" fill="#c9c9c9"/><rect x="14.10" y="671.6" width="0.9" height="2.5" fill="#c9c9c9"/><rect x="16.40" y="671.6" width="0.9" height="2.5" fill="#c9c9c9"/><rect x="18.70" y="671.6" width="0.9" height="2.5" fill="#c9c9c9"/><rect x="21.00" y="671.6" width="0.9" height="2.5" fill="#c9c9c9"/><rect x="23.30" y="671.6" width="0.9" height="2.5" fill="#c9c9c9"/><rect x="25.60" y="671.6" width="0.9" height="2.5" fill="#c9c9c9"/><rect x="27.90" y="671.6" width="0.9" height="2.5" fill="#c9c9c9"/><rect x="30.20" y="671.6" width="0.9" height="2.5" fill="#c9c9c9"/><rect x="32.50" y="671.6" width="0.9" height="2.5" fill="#c9c9c9"/><rect x="34.80" y="671.6" width="0.9" height="2.5" fill="#c9c9c9"/><rect x="37.10" y="671.6" width="0.9" height="2.5" fill="#c9c9c9"/><rect x="39.40" y="671.6" width="0.9" height="2.5" fill="#c9c9c9"/><rect x="41.70" y="671.6" width="0.9" height="2.5" fill="#c9c9c9"/><rect x="44.00" y="671.6" width="0.9" height="2.5" fill="#c9c9c9"/><rect x="46.30" y="671.6" width="0.9" height="2.5" fill="#c9c9c9"/><rect x="48.60" y="671.6" width="0.9" height="2.5" fill="#c9c9c9"/><rect x="50.90" y="671.6" width="0.9" height="2.5" fill="#c9c9c9"/><rect x="53.20" y="671.6" width="0.9" height="2.5" fill="#c9c9c9"/><rect x="55.50" y="671.6" width="0.9" height="2.5" fill="#c9c9c9"/><rect x="57.80" y="671.6" width="0.9" height="2.5" fill="#c9c9c9"/><rect x="60.10" y="671.6" width="0.9" height="2.5" fill="#c9c9c9"/><rect x="62.40" y="671.6" width="0.9" height="2.5" fill="#c9c9c9"/><rect x="64.70" y="671.6" width="0.9" height="2.5" fill="#c9c9c9"/><rect x="67.00" y="671.6" width="0.9" height="2.5" fill="#c9c9c9"/><rect x="69.30" y="671.6" width="0.9" height="2.5" fill="#c9c9c9"/><rect x="71.60" y="671.6" width="0.9" height="2.5" fill="#c9c9c9"/><rect x="73.90" y="671.6" width="0.9" height="2.5" fill="#c9c9c9"/><rect x="76.20" y="671.6" width="0.9" height="2.5" fill="#c9c9c9"/><rect x="78.50" y="671.6" width="0.9" height="2.5" fill="#c9c9c9"/><rect x="80.80" y="671.6" width="0.9" height="2.5" fill="#c9c9c9"/><rect x="83.10" y="671.6" width="0.9" height="2.5" fill="#c9c9c9"/><rect x="85.40" y="671.6" width="0.9" height="2.5" fill="#c9c9c9"/><rect x="87.70" y="671.6" width="0.9" height="2.5" fill="#c9c9c9"/><rect x="90.00" y="671.6" width="0.9" height="2.5" fill="#c9c9c9"/><rect x="92.30" y="671.6" width="0.9" height="2.5" fill="#c9c9c9"/><rect x="94.60" y="671.6" width="0.9" height="2.5" fill="#c9c9c9"/><rect x="96.90" y="671.6" width="0.9" height="2.5" fill="#c9c9c9"/><rect x="99.20" y="671.6" width="0.9" height="2.5" fill="#c9c9c9"/><rect x="101.50" y="671.6" width="0.9" height="2.5" fill="#c9c9c9"/><rect x="103.80" y="671.6" width="0.9" height="2.5" fill="#c9c9c9"/><rect x="106.10" y="671.6" width="0.9" height="2.5" fill="#c9c9c9"/><rect x="108.40" y="671.6" width="0.9" height="2.5" fill="#c9c9c9"/><rect x="110.70" y="671.6" width="0.9" height="2.5" fill="#c9c9c9"/><rect x="113.00" y="671.6" width="0.9" height="2.5" fill="#c9c9c9"/><rect x="115.30" y="671.6" width="0.9" height="2.5" fill="#c9c9c9"/><rect x="117.60" y="671.6" width="0.9" height="2.5" fill="#c9c9c9"/><rect x="119.90" y="671.6" width="0.9" height="2.5" fill="#c9c9c9"/><rect x="122.20" y="671.6" width="0.9" height="2.5" fill="#c9c9c9"/><rect x="124.50" y="671.6" width="0.9" height="2.5" fill="#c9c9c9"/><rect x="126.80" y="671.6" width="0.9" height="2.5" fill="#c9c9c9"/><rect x="129.10" y="671.6" width="0.9" height="2.5" fill="#c9c9c9"/><rect x="131.40" y="671.6" width="0.9" height="2.5" fill="#c9c9c9"/><rect x="133.70" y="671.6" width="0.9" height="2.5" fill="#c9c9c9"/><rect x="136.00" y="671.6" width="0.9" height="2.5" fill="#c9c9c9"/><rect x="138.30" y="671.6" width="0.9" height="2.5" fill="#c9c9c9"/><rect x="140.60" y="671.6" width="0.9" height="2.5" fill="#c9c9c9"/><rect x="142.90" y="671.6" width="0.9" height="2.5" fill="#c9c9c9"/><rect x="145.20" y="671.6" width="0.9" height="2.5" fill="#c9c9c9"/><rect x="147.50" y="671.6" width="0.9" height="2.5" fill="#c9c9c9"/><rect x="149.80" y="671.6" width="0.9" height="2.5" fill="#c9c9c9"/><rect x="152.10" y="671.6" width="0.9" height="2.5" fill="#c9c9c9"/><rect x="154.40" y="671.6" width="0.9" height="2.5" fill="#c9c9c9"/><rect x="156.70" y="671.6" width="0.9" height="2.5" fill="#c9c9c9"/><rect x="159.00" y="671.6" width="0.9" height="2.5" fill="#c9c9c9"/><rect x="161.30" y="671.6" width="0.9" height="2.5" fill="#c9c9c9"/><rect x="163.60" y="671.6" width="0.9" height="2.5" fill="#c9c9c9"/><rect x="165.90" y="671.6" width="0.9" height="2.5" fill="#c9c9c9"/><rect x="168.20" y="671.6" width="0.9" height="2.5" fill="#c9c9c9"/><rect x="170.50" y="671.6" width="0.9" height="2.5" fill="#c9c9c9"/><rect x="172.80" y="671.6" width="0.9" height="2.5" fill="#c9c9c9"/><rect x="175.10" y="671.6" width="0.9" height="2.5" fill="#c9c9c9"/><rect x="177.40" y="671.6" width="0.9" height="2.5" fill="#c9c9c9"/><rect x="179.70" y="671.6" width="0.9" height="2.5" fill="#c9c9c9"/><rect x="182.00" y="671.6" width="0.9" height="2.5" fill="#c9c9c9"/><rect x="184.30" y="671.6" width="0.9" height="2.5" fill="#c9c9c9"/><rect x="186.60" y="671.6" width="0.9" height="2.5" fill="#c9c9c9"/><rect x="188.90" y="671.6" width="0.9" height="2.5" fill="#c9c9c9"/><rect x="191.20" y="671.6" width="0.9" height="2.5" fill="#c9c9c9"/><rect x="193.50" y="671.6" width="0.9" height="2.5" fill="#c9c9c9"/><rect x="195.80" y="671.6" width="0.9" height="2.5" fill="#c9c9c9"/><rect x="198.10" y="671.6" width="0.9" height="2.5" fill="#c9c9c9"/><rect x="200.40" y="671.6" width="0.9" height="2.5" fill="#c9c9c9"/><rect x="202.70" y="671.6" width="0.9" height="2.5" fill="#c9c9c9"/><rect x="205.00" y="671.6" width="0.9" height="2.5" fill="#c9c9c9"/><rect x="207.30" y="671.6" width="0.9" height="2.5" fill="#c9c9c9"/><rect x="209.60" y="671.6" width="0.9" height="2.5" fill="#c9c9c9"/><rect x="211.90" y="671.6" width="0.9" height="2.5" fill="#c9c9c9"/><rect x="214.20" y="671.6" width="0.9" height="2.5" fill="#c9c9c9"/><rect x="216.50" y="671.6" width="0.9" height="2.5" fill="#c9c9c9"/><rect x="218.80" y="671.6" width="0.9" height="2.5" fill="#c9c9c9"/><rect x="221.10" y="671.6" width="0.9" height="2.5" fill="#c9c9c9"/><rect x="223.40" y="671.6" width="0.9" height="2.5" fill="#c9c9c9"/><rect x="225.70" y="671.6" width="0.9" height="2.5" fill="#c9c9c9"/><rect x="228.00" y="671.6" width="0.9" height="2.5" fill="#c9c9c9"/><rect x="230.30" y="671.6" width="0.9" height="2.5" fill="#c9c9c9"/><rect x="232.60" y="671.6" width="0.9" height="2.5" fill="#c9c9c9"/><rect x="234.90" y="671.6" width="0.9" height="2.5" fill="#c9c9c9"/><rect x="237.20" y="671.6" width="0.9" height="2.5" fill="#c9c9c9"/><rect x="239.50" y="671.6" width="0.9" height="2.5" fill="#c9c9c9"/><rect x="241.80" y="671.6" width="0.9" height="2.5" fill="#c9c9c9"/><rect x="244.10" y="671.6" width="0.9" height="2.5" fill="#c9c9c9"/><rect x="246.40" y="671.6" width="0.9" height="2.5" fill="#c9c9c9"/><rect x="248.70" y="671.6" width="0.9" height="2.5" fill="#c9c9c9"/><rect x="251.00" y="671.6" width="0.9" height="2.5" fill="#c9c9c9"/><rect x="253.30" y="671.6" width="0.9" height="2.5" fill="#c9c9c9"/><rect x="255.60" y="671.6" width="0.9" height="2.5" fill="#c9c9c9"/><rect x="257.90" y="671.6" width="0.9" height="2.5" fill="#c9c9c9"/><rect x="260.20" y="671.6" width="0.9" height="2.5" fill="#c9c9c9"/><rect x="262.50" y="671.6" width="0.9" height="2.5" fill="#c9c9c9"/><rect x="264.80" y="671.6" width="0.9" height="2.5" fill="#c9c9c9"/><rect x="267.10" y="671.6" width="0.9" height="2.5" fill="#c9c9c9"/><rect x="269.40" y="671.6" width="0.9" height="2.5" fill="#c9c9c9"/><rect x="271.70" y="671.6" width="0.9" height="2.5" fill="#c9c9c9"/><rect x="274.00" y="671.6" width="0.9" height="2.5" fill="#c9c9c9"/><rect x="276.30" y="671.6" width="0.9" height="2.5" fill="#c9c9c9"/><rect x="278.60" y="671.6" width="0.9" height="2.5" fill="#c9c9c9"/><rect x="280.90" y="671.6" width="0.9" height="2.5" fill="#c9c9c9"/><rect x="283.20" y="671.6" width="0.9" height="2.5" fill="#c9c9c9"/><rect x="285.50" y="671.6" width="0.9" height="2.5" fill="#c9c9c9"/><rect x="287.80" y="671.6" width="0.9" height="2.5" fill="#c9c9c9"/><rect x="290.10" y="671.6" width="0.9" height="2.5" fill="#c9c9c9"/><rect x="292.40" y="671.6" width="0.9" height="2.5" fill="#c9c9c9"/><rect x="294.70" y="671.6" width="0.9" height="2.5" fill="#c9c9c9"/><rect x="297.00" y="671.6" width="0.9" height="2.5" fill="#c9c9c9"/><rect x="299.30" y="671.6" width="0.9" height="2.5" fill="#c9c9c9"/><rect x="301.60" y="671.6" width="0.9" height="2.5" fill="#c9c9c9"/><rect x="303.90" y="671.6" width="0.9" height="2.5" fill="#c9c9c9"/><rect x="306.20" y="671.6" width="0.9" height="2.5" fill="#c9c9c9"/><rect x="308.50" y="671.6" width="0.9" height="2.5" fill="#c9c9c9"/><rect x="310.80" y="671.6" width="0.9" height="2.5" fill="#c9c9c9"/><rect x="313.10" y="671.6" width="0.9" height="2.5" fill="#c9c9c9"/><rect x="315.40" y="671.6" width="0.9" height="2.5" fill="#c9c9c9"/><rect x="317.70" y="671.6" width="0.9" height="2.5" fill="#c9c9c9"/><rect x="320.00" y="671.6" width="0.9" height="2.5" fill="#c9c9c9"/><rect x="322.30" y="671.6" width="0.9" height="2.5" fill="#c9c9c9"/><rect x="324.60" y="671.6" width="0.9" height="2.5" fill="#c9c9c9"/><rect x="326.90" y="671.6" width="0.9" height="2.5" fill="#c9c9c9"/><rect x="329.20" y="671.6" width="0.9" height="2.5" fill="#c9c9c9"/><rect x="331.50" y="671.6" width="0.9" height="2.5" fill="#c9c9c9"/><rect x="333.80" y="671.6" width="0.9" height="2.5" fill="#c9c9c9"/><rect x="336.10" y="671.6" width="0.9" height="2.5" fill="#c9c9c9"/><rect x="338.40" y="671.6" width="0.9" height="2.5" fill="#c9c9c9"/><rect x="340.70" y="671.6" width="0.9" height="2.5" fill="#c9c9c9"/><rect x="343.00" y="671.6" width="0.9" height="2.5" fill="#c9c9c9"/><rect x="345.30" y="671.6" width="0.9" height="2.5" fill="#c9c9c9"/><rect x="347.60" y="671.6" width="0.9" height="2.5" fill="#c9c9c9"/><rect x="349.90" y="671.6" width="0.9" height="2.5" fill="#c9c9c9"/><rect x="352.20" y="671.6" width="0.9" height="2.5" fill="#c9c9c9"/><rect x="354.50" y="671.6" width="0.9" height="2.5" fill="#c9c9c9"/><rect x="356.80" y="671.6" width="0.9" height="2.5" fill="#c9c9c9"/><rect x="359.10" y="671.6" width="0.9" height="2.5" fill="#c9c9c9"/><rect x="361.40" y="671.6" width="0.9" height="2.5" fill="#c9c9c9"/><rect x="363.70" y="671.6" width="0.9" height="2.5" fill="#c9c9c9"/><rect x="366.00" y="671.6" width="0.9" height="2.5" fill="#c9c9c9"/><rect x="368.30" y="671.6" width="0.9" height="2.5" fill="#c9c9c9"/><rect x="370.60" y="671.6" width="0.9" height="2.5" fill="#c9c9c9"/><rect x="372.90" y="671.6" width="0.9" height="2.5" fill="#c9c9c9"/><rect x="375.20" y="671.6" width="0.9" height="2.5" fill="#c9c9c9"/><rect x="377.50" y="671.6" width="0.9" height="2.5" fill="#c9c9c9"/><rect x="379.80" y="671.6" width="0.9" height="2.5" fill="#c9c9c9"/><rect x="382.10" y="671.6" width="0.9" height="2.5" fill="#c9c9c9"/><rect x="384.40" y="671.6" width="0.9" height="2.5" fill="#c9c9c9"/><rect x="386.70" y="671.6" width="0.9" height="2.5" fill="#c9c9c9"/><rect x="389.00" y="671.6" width="0.9" height="2.5" fill="#c9c9c9"/><rect x="391.30" y="671.6" width="0.9" height="2.5" fill="#c9c9c9"/><rect x="393.60" y="671.6" width="0.9" height="2.5" fill="#c9c9c9"/><rect x="395.90" y="671.6" width="0.9" height="2.5" fill="#c9c9c9"/><rect x="398.20" y="671.6" width="0.9" height="2.5" fill="#c9c9c9"/><rect x="400.50" y="671.6" width="0.9" height="2.5" fill="#c9c9c9"/><rect x="402.80" y="671.6" width="0.9" height="2.5" fill="#c9c9c9"/><rect x="405.10" y="671.6" width="0.9" height="2.5" fill="#c9c9c9"/><rect x="407.40" y="671.6" width="0.9" height="2.5" fill="#c9c9c9"/><rect x="409.70" y="671.6" width="0.9" height="2.5" fill="#c9c9c9"/><rect x="412.00" y="671.6" width="0.9" height="2.5" fill="#c9c9c9"/><rect x="414.30" y="671.6" width="0.9" height="2.5" fill="#c9c9c9"/><rect x="416.60" y="671.6" width="0.9" height="2.5" fill="#c9c9c9"/><rect x="418.90" y="671.6" width="0.9" height="2.5" fill="#c9c9c9"/><rect x="421.20" y="671.6" width="0.9" height="2.5" fill="#c9c9c9"/><rect x="423.50" y="671.6" width="0.9" height="2.5" fill="#c9c9c9"/><rect x="425.80" y="671.6" width="0.9" height="2.5" fill="#c9c9c9"/><rect x="428.10" y="671.6" width="0.9" height="2.5" fill="#c9c9c9"/><rect x="430.40" y="671.6" width="0.9" height="2.5" fill="#c9c9c9"/><rect x="432.70" y="671.6" width="0.9" height="2.5" fill="#c9c9c9"/><rect x="435.00" y="671.6" width="0.9" height="2.5" fill="#c9c9c9"/><rect x="437.30" y="671.6" width="0.9" height="2.5" fill="#c9c9c9"/><rect x="439.60" y="671.6" width="0.9" height="2.5" fill="#c9c9c9"/><rect x="441.90" y="671.6" width="0.9" height="2.5" fill="#c9c9c9"/><rect x="444.20" y="671.6" width="0.9" height="2.5" fill="#c9c9c9"/><rect x="446.50" y="671.6" width="0.9" height="2.5" fill="#c9c9c9"/><rect x="448.80" y="671.6" width="0.9" height="2.5" fill="#c9c9c9"/><rect x="451.10" y="671.6" width="0.9" height="2.5" fill="#c9c9c9"/><rect x="453.40" y="671.6" width="0.9" height="2.5" fill="#c9c9c9"/><rect x="455.70" y="671.6" width="0.9" height="2.5" fill="#c9c9c9"/><rect x="458.00" y="671.6" width="0.9" height="2.5" fill="#c9c9c9"/><rect x="460.30" y="671.6" width="0.9" height="2.5" fill="#c9c9c9"/><rect x="462.60" y="671.6" width="0.9" height="2.5" fill="#c9c9c9"/><rect x="464.90" y="671.6" width="0.9" height="2.5" fill="#c9c9c9"/><rect x="467.20" y="671.6" width="0.9" height="2.5" fill="#c9c9c9"/><rect x="469.50" y="671.6" width="0.9" height="2.5" fill="#c9c9c9"/><rect x="471.80" y="671.6" width="0.9" height="2.5" fill="#c9c9c9"/><rect x="474.10" y="671.6" width="0.9" height="2.5" fill="#c9c9c9"/><rect x="476.40" y="671.6" width="0.9" height="2.5" fill="#c9c9c9"/><rect x="478.70" y="671.6" width="0.9" height="2.5" fill="#c9c9c9"/><rect x="481.00" y="671.6" width="0.9" height="2.5" fill="#c9c9c9"/><rect x="483.30" y="671.6" width="0.9" height="2.5" fill="#c9c9c9"/><rect x="485.60" y="671.6" width="0.9" height="2.5" fill="#c9c9c9"/><rect x="487.90" y="671.6" width="0.9" height="2.5" fill="#c9c9c9"/><rect x="490.20" y="671.6" width="0.9" height="2.5" fill="#c9c9c9"/><rect x="492.50" y="671.6" width="0.9" height="2.5" fill="#c9c9c9"/><rect x="494.80" y="671.6" width="0.9" height="2.5" fill="#c9c9c9"/><rect x="497.10" y="671.6" width="0.9" height="2.5" fill="#c9c9c9"/><rect x="499.40" y="671.6" width="0.9" height="2.5" fill="#c9c9c9"/><rect x="501.70" y="671.6" width="0.9" height="2.5" fill="#c9c9c9"/><rect x="504.00" y="671.6" width="0.9" height="2.5" fill="#c9c9c9"/><rect x="506.30" y="671.6" width="0.9" height="2.5" fill="#c9c9c9"/><rect x="508.60" y="671.6" width="0.9" height="2.5" fill="#c9c9c9"/><rect x="510.90" y="671.6" width="0.9" height="2.5" fill="#c9c9c9"/><rect x="513.20" y="671.6" width="0.9" height="2.5" fill="#c9c9c9"/><rect x="515.50" y="671.6" width="0.9" height="2.5" fill="#c9c9c9"/><rect x="517.80" y="671.6" width="0.9" height="2.5" fill="#c9c9c9"/><rect x="520.10" y="671.6" width="0.9" height="2.5" fill="#c9c9c9"/><rect x="522.40" y="671.6" width="0.9" height="2.5" fill="#c9c9c9"/><rect x="524.70" y="671.6" width="0.9" height="2.5" fill="#c9c9c9"/><rect x="527.00" y="671.6" width="0.9" height="2.5" fill="#c9c9c9"/><rect x="529.30" y="671.6" width="0.9" height="2.5" fill="#c9c9c9"/><rect x="531.60" y="671.6" width="0.9" height="2.5" fill="#c9c9c9"/><rect x="533.90" y="671.6" width="0.9" height="2.5" fill="#c9c9c9"/><rect x="536.20" y="671.6" width="0.9" height="2.5" fill="#c9c9c9"/><rect x="538.50" y="671.6" width="0.9" height="2.5" fill="#c9c9c9"/><rect x="540.80" y="671.6" width="0.9" height="2.5" fill="#c9c9c9"/><rect x="543.10" y="671.6" width="0.9" height="2.5" fill="#c9c9c9"/><rect x="545.40" y="671.6" width="0.9" height="2.5" fill="#c9c9c9"/><rect x="547.70" y="671.6" width="0.9" height="2.5" fill="#c9c9c9"/><rect x="550.00" y="671.6" width="0.9" height="2.5" fill="#c9c9c9"/><rect x="552.30" y="671.6" width="0.9" height="2.5" fill="#c9c9c9"/><rect x="554.60" y="671.6" width="0.9" height="2.5" fill="#c9c9c9"/><rect x="556.90" y="671.6" width="0.9" height="2.5" fill="#c9c9c9"/><rect x="559.20" y="671.6" width="0.9" height="2.5" fill="#c9c9c9"/><rect x="561.50" y="671.6" width="0.9" height="2.5" fill="#c9c9c9"/><rect x="563.80" y="671.6" width="0.9" height="2.5" fill="#c9c9c9"/><rect x="566.10" y="671.6" width="0.9" height="2.5" fill="#c9c9c9"/><rect x="568.40" y="671.6" width="0.9" height="2.5" fill="#c9c9c9"/><rect x="570.70" y="671.6" width="0.9" height="2.5" fill="#c9c9c9"/><rect x="573.00" y="671.6" width="0.9" height="2.5" fill="#c9c9c9"/><rect x="575.30" y="671.6" width="0.9" height="2.5" fill="#c9c9c9"/><rect x="577.60" y="671.6" width="0.9" height="2.5" fill="#c9c9c9"/><rect x="579.90" y="671.6" width="0.9" height="2.5" fill="#c9c9c9"/><rect x="582.20" y="671.6" width="0.9" height="2.5" fill="#c9c9c9"/><rect x="584.50" y="671.6" width="0.9" height="2.5" fill="#c9c9c9"/><rect x="586.80" y="671.6" width="0.9" height="2.5" fill="#c9c9c9"/><rect x="589.10" y="671.6" width="0.9" height="2.5" fill="#c9c9c9"/><rect x="591.40" y="671.6" width="0.9" height="2.5" fill="#c9c9c9"/><rect x="593.70" y="671.6" width="0.9" height="2.5" fill="#c9c9c9"/><rect x="596.00" y="671.6" width="0.9" height="2.5" fill="#c9c9c9"/><rect x="598.30" y="671.6" width="0.9" height="2.5" fill="#c9c9c9"/><rect x="600.60" y="671.6" width="0.9" height="2.5" fill="#c9c9c9"/><rect x="602.90" y="671.6" width="0.9" height="2.5" fill="#c9c9c9"/><rect x="605.20" y="671.6" width="0.9" height="2.5" fill="#c9c9c9"/><rect x="607.50" y="671.6" width="0.9" height="2.5" fill="#c9c9c9"/><rect x="609.80" y="671.6" width="0.9" height="2.5" fill="#c9c9c9"/><rect x="612.10" y="671.6" width="0.9" height="2.5" fill="#c9c9c9"/><rect x="614.40" y="671.6" width="0.9" height="2.5" fill="#c9c9c9"/><rect x="616.70" y="671.6" width="0.9" height="2.5" fill="#c9c9c9"/><rect x="619.00" y="671.6" width="0.9" height="2.5" fill="#c9c9c9"/><rect x="621.30" y="671.6" width="0.9" height="2.5" fill="#c9c9c9"/><rect x="623.60" y="671.6" width="0.9" height="2.5" fill="#c9c9c9"/><rect x="625.90" y="671.6" width="0.9" height="2.5" fill="#c9c9c9"/><rect x="628.20" y="671.6" width="0.9" height="2.5" fill="#c9c9c9"/><rect x="630.50" y="671.6" width="0.9" height="2.5" fill="#c9c9c9"/><rect x="632.80" y="671.6" width="0.9" height="2.5" fill="#c9c9c9"/><rect x="635.10" y="671.6" width="0.9" height="2.5" fill="#c9c9c9"/><rect x="637.40" y="671.6" width="0.9" height="2.5" fill="#c9c9c9"/><rect x="639.70" y="671.6" width="0.9" height="2.5" fill="#c9c9c9"/><rect x="642.00" y="671.6" width="0.9" height="2.5" fill="#c9c9c9"/><rect x="644.30" y="671.6" width="0.9" height="2.5" fill="#c9c9c9"/><rect x="646.60" y="671.6" width="0.9" height="2.5" fill="#c9c9c9"/><rect x="648.90" y="671.6" width="0.9" height="2.5" fill="#c9c9c9"/><rect x="651.20" y="671.6" width="0.9" height="2.5" fill="#c9c9c9"/><rect x="653.50" y="671.6" width="0.9" height="2.5" fill="#c9c9c9"/><rect x="655.80" y="671.6" width="0.9" height="2.5" fill="#c9c9c9"/><rect x="658.10" y="671.6" width="0.9" height="2.5" fill="#c9c9c9"/><rect x="660.40" y="671.6" width="0.9" height="2.5" fill="#c9c9c9"/><rect x="662.70" y="671.6" width="0.9" height="2.5" fill="#c9c9c9"/><rect x="665.00" y="671.6" width="0.9" height="2.5" fill="#c9c9c9"/><rect x="667.30" y="671.6" width="0.9" height="2.5" fill="#c9c9c9"/><rect x="669.60" y="671.6" width="0.9" height="2.5" fill="#c9c9c9"/><rect x="671.90" y="671.6" width="0.9" height="2.5" fill="#c9c9c9"/><rect x="674.20" y="671.6" width="0.9" height="2.5" fill="#c9c9c9"/><rect x="676.50" y="671.6" width="0.9" height="2.5" fill="#c9c9c9"/><rect x="678.80" y="671.6" width="0.9" height="2.5" fill="#c9c9c9"/><rect x="681.10" y="671.6" width="0.9" height="2.5" fill="#c9c9c9"/><rect x="683.40" y="671.6" width="0.9" height="2.5" fill="#c9c9c9"/><rect x="685.70" y="671.6" width="0.9" height="2.5" fill="#c9c9c9"/><rect x="688.00" y="671.6" width="0.9" height="2.5" fill="#c9c9c9"/><rect x="690.30" y="671.6" width="0.9" height="2.5" fill="#c9c9c9"/><rect x="692.60" y="671.6" width="0.9" height="2.5" fill="#c9c9c9"/><rect x="694.90" y="671.6" width="0.9" height="2.5" fill="#c9c9c9"/><rect x="697.20" y="671.6" width="0.9" height="2.5" fill="#c9c9c9"/><rect x="699.50" y="671.6" width="0.9" height="2.5" fill="#c9c9c9"/><rect x="701.80" y="671.6" width="0.9" height="2.5" fill="#c9c9c9"/><rect x="704.10" y="671.6" width="0.9" height="2.5" fill="#c9c9c9"/><rect x="706.40" y="671.6" width="0.9" height="2.5" fill="#c9c9c9"/><rect x="708.70" y="671.6" width="0.9" height="2.5" fill="#c9c9c9"/><rect x="711.00" y="671.6" width="0.9" height="2.5" fill="#c9c9c9"/><rect x="713.30" y="671.6" width="0.9" height="2.5" fill="#c9c9c9"/><rect x="715.60" y="671.6" width="0.9" height="2.5" fill="#c9c9c9"/><rect x="717.90" y="671.6" width="0.9" height="2.5" fill="#c9c9c9"/><rect x="720.20" y="671.6" width="0.9" height="2.5" fill="#c9c9c9"/><rect x="22.80" y="671.6" width="1" height="4.5" fill="#aaa"/><rect x="56.92" y="671.6" width="1" height="4.5" fill="#aaa"/><rect x="92.19" y="671.6" width="1" height="4.5" fill="#aaa"/><rect x="127.45" y="671.6" width="1" height="4.5" fill="#aaa"/><rect x="159.30" y="671.6" width="1" height="4.5" fill="#aaa"/><rect x="194.56" y="671.6" width="1" height="4.5" fill="#aaa"/><rect x="228.69" y="671.6" width="1" height="4.5" fill="#aaa"/><rect x="263.95" y="671.6" width="1" height="4.5" fill="#aaa"/><rect x="298.07" y="671.6" width="1" height="4.5" fill="#aaa"/><rect x="333.34" y="671.6" width="1" height="4.5" fill="#aaa"/><rect x="368.60" y="671.6" width="1" height="4.5" fill="#aaa"/><rect x="402.72" y="671.6" width="1" height="4.5" fill="#aaa"/><rect x="437.99" y="671.6" width="1" height="4.5" fill="#aaa"/><rect x="472.11" y="671.6" width="1" height="4.5" fill="#aaa"/><rect x="507.37" y="671.6" width="1" height="4.5" fill="#aaa"/><rect x="542.64" y="671.6" width="1" height="4.5" fill="#aaa"/><rect x="574.49" y="671.6" width="1" height="4.5" fill="#aaa"/><rect x="609.75" y="671.6" width="1" height="4.5" fill="#aaa"/><rect x="643.88" y="671.6" width="1" height="4.5" fill="#aaa"/><rect x="679.14" y="671.6" width="1" height="4.5" fill="#aaa"/><rect x="713.26" y="671.6" width="1" height="4.5" fill="#aaa"/>
<circle cx="702.5" cy="661.3" r="5" fill="#e2b022"/>
<path d="M241.5,629 L233.5,637 L241.5,645" fill="none" stroke="#b9b9b9" stroke-width="2.4"/>
<path d="M343.5,629 L351.5,637 L343.5,645" fill="none" stroke="#b9b9b9" stroke-width="2.4"/>
</svg>
<div style="position:absolute;left:248px;top:627px;width:90px;font-size:16.5px;font-weight:bold;letter-spacing:-0.85px;color:#dcae2c;white-space:nowrap">Jun 20, 2022</div>
<div class="ml" style="left:3.3px">Nov</div><div class="ml" style="left:37.4px">Dec</div><div class="ml" style="left:72.7px">Jan</div><div class="ml" style="left:107.9px">Feb</div><div class="ml" style="left:139.8px">Mar</div><div class="ml" style="left:175.1px">Apr</div><div class="ml" style="left:209.2px">May</div><div class="ml" style="left:244.4px">Jun</div><div class="ml" style="left:278.6px">Jul</div><div class="ml" style="left:313.8px">Aug</div><div class="ml" style="left:349.1px">Sep</div><div class="ml" style="left:383.2px">Oct</div><div class="ml" style="left:418.5px">Nov</div><div class="ml" style="left:452.6px">Dec</div><div class="ml" style="left:487.9px">Jan</div><div class="ml" style="left:523.1px">Feb</div><div class="ml" style="left:555.0px">Mar</div><div class="ml" style="left:590.2px">Apr</div><div class="ml" style="left:624.4px">May</div><div class="ml" style="left:659.6px">Jun</div><div class="ml" style="left:693.8px">Jul</div>
<div id="attr"></div>
<div style="position:absolute;left:-0.5px;top:717px;font-size:7.2px;line-height:9px;color:#444;white-space:nowrap">ook, Inc. and its affiliates, Esri Community Maps contributors, Map layer by Esri</div>
<div style="position:absolute;left:728.5px;top:717px;font-size:7.5px;line-height:9px;color:#444;white-space:nowrap">Powered by Esri</div>
<div style="position:absolute;left:270.5px;top:712.5px;width:43.5px;height:20px;background:#fff;border:1px solid #ccc;border-radius:12px"></div>
<svg style="position:absolute;left:286px;top:715px" width="14" height="8"><path d="M2,6 L7,1.5 L12,6" fill="none" stroke="#333" stroke-width="1.5"/></svg>
<div style="position:absolute;left:769.4px;top:342.2px;width:20px;height:44.2px;background:#fff;border-radius:13px 0 0 13px;border:1px solid #ddd"></div>
<svg style="position:absolute;left:773px;top:359px" width="10" height="12"><path d="M2,2 L6.5,6 L2,10" fill="none" stroke="#333" stroke-width="1.5"/></svg>
</div>
<div id="topline"></div>
<div id="panel">
<div class="box" style="top:6px;height:32.7px"><div style="position:absolute;left:0;width:100%;top:2.8px;text-align:center;font-size:18.5px;-webkit-text-stroke:0.6px #111;color:#111">HOUSTON</div></div>
<div class="box" style="top:45.3px;height:32.5px"><div style="position:absolute;left:0;width:100%;top:5.7px;text-align:center;font-size:15.2px;font-weight:bold;color:#282828">June 20, 2022</div></div>
<div class="box" style="top:84.3px;height:302px">
<div style="position:absolute;left:0;width:100%;top:103px;text-align:center;font-size:24.4px;letter-spacing:0.3px;color:#606060">Viral Load:</div>
<div style="position:absolute;left:0;width:100%;top:132.5px;text-align:center;font-size:44px;font-weight:normal;-webkit-text-stroke:1.1px #4a4a4a;letter-spacing:3.5px;text-indent:3.5px;color:#4a4a4a">636%</div>
<div style="position:absolute;left:-1.5px;width:100%;top:184px;text-align:center;font-size:12.3px;color:#707070">In comparison to July 6, 2020</div>
</div>
<div class="box" style="top:391.6px;height:294.3px">
<div style="position:absolute;left:0;width:100%;top:106.5px;text-align:center;font-size:24.2px;color:#606060">Positivity Rate:</div>
<div style="position:absolute;left:0;width:100%;top:135px;text-align:center;font-size:44px;font-weight:normal;-webkit-text-stroke:1.1px #4a4a4a;letter-spacing:4px;text-indent:4px;color:#4a4a4a">26%</div>
</div>
<div class="box" style="top:691.9px;height:40px">
<div style="position:absolute;left:12px;top:5px;width:89px;height:17px;background:#e0b122;border-radius:3px;color:#fff;font-weight:bold;font-size:8.5px;text-align:center;line-height:17px">WWTP Areas</div>
<div style="position:absolute;left:107.5px;top:5px;width:89px;height:17px;background:#e0e0e0;border-radius:3px;color:#444;font-weight:bold;font-size:8.2px;text-align:center;line-height:17px">Schools</div>
</div>
</div>
</body></html>
